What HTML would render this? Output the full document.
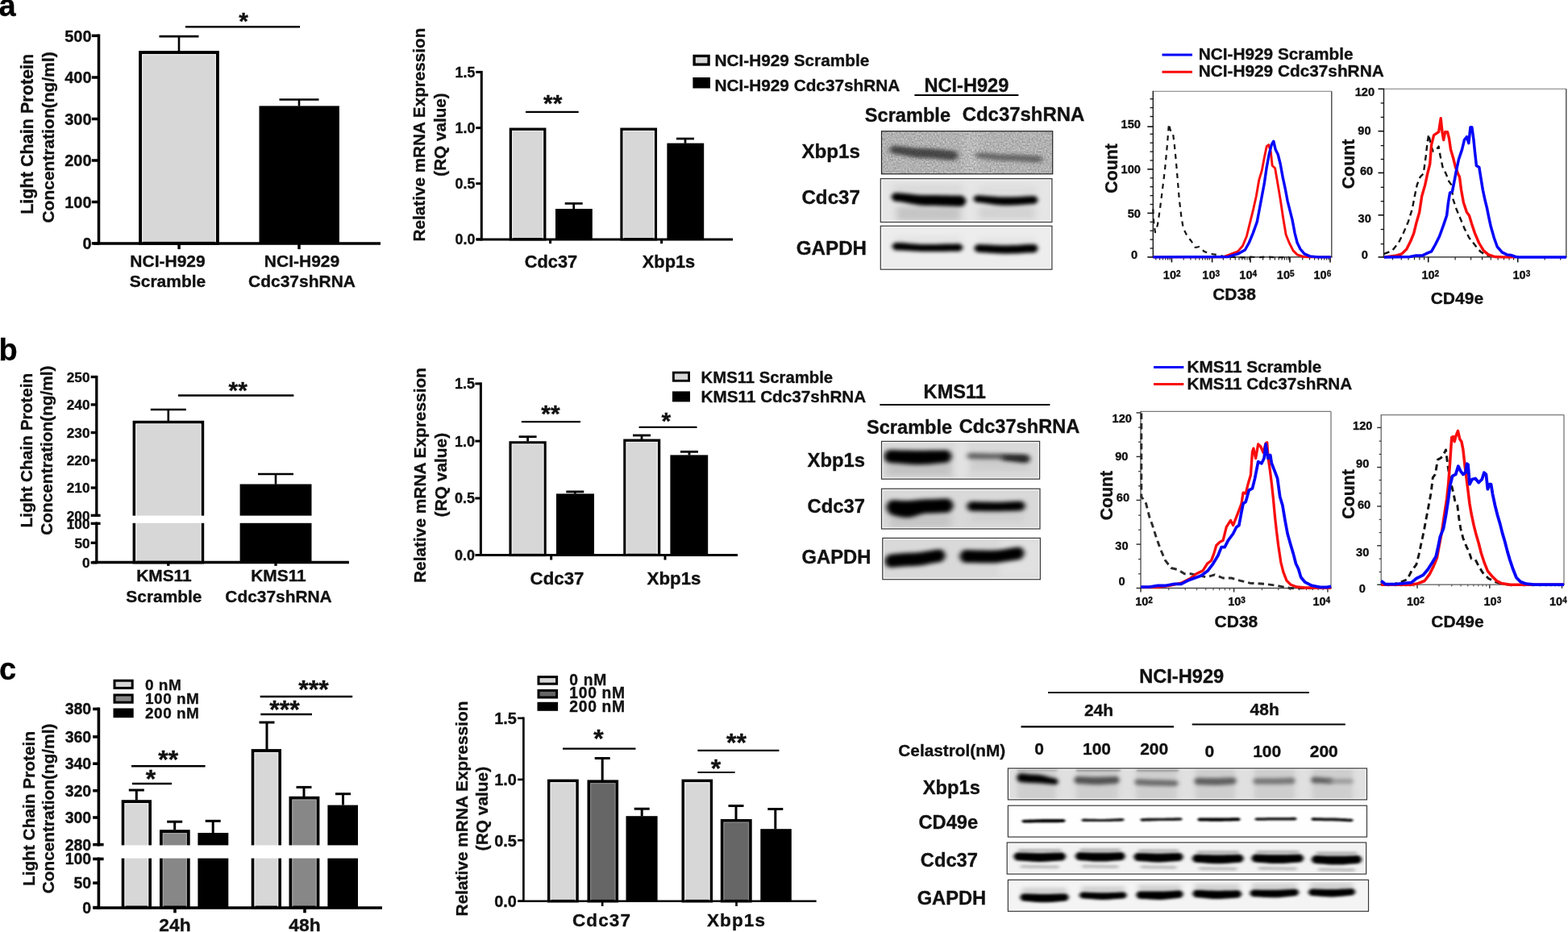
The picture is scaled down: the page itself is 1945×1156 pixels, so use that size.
<!DOCTYPE html>
<html lang="en">
<head>
<meta charset="utf-8">
<title>Figure</title>
<style>
html,body{margin:0;padding:0;background:#fff;}
body{width:1945px;height:1156px;overflow:hidden;}
svg{display:block;font-family:"Liberation Sans",Arial,Helvetica,sans-serif;}
svg text{stroke:#111;stroke-width:0.35px;stroke-linejoin:round;}
</style>
</head>
<body>
<svg width="1945" height="1156" viewBox="0 0 1945 1156" role="img" aria-label="Figure: Cdc37 knockdown and celastrol effects on light chain protein, Xbp1s, CD38 and CD49e">
<defs>
<filter id="b1" x="-20%" y="-80%" width="140%" height="260%"><feGaussianBlur stdDeviation="2.2 1.6"/></filter>
<filter id="b2" x="-20%" y="-80%" width="140%" height="260%"><feGaussianBlur stdDeviation="3 2.2"/></filter>
<filter id="b3" x="-20%" y="-80%" width="140%" height="260%"><feGaussianBlur stdDeviation="1.6 1.1"/></filter>
<filter id="b5" x="-20%" y="-80%" width="140%" height="260%"><feGaussianBlur stdDeviation="3.2 2.5"/></filter>
<filter id="b6" x="-20%" y="-80%" width="140%" height="260%"><feGaussianBlur stdDeviation="2.8 2"/></filter>
<filter id="b7" x="-20%" y="-80%" width="140%" height="260%"><feGaussianBlur stdDeviation="2.6 1.9"/></filter>
<filter id="b4" x="-30%" y="-100%" width="160%" height="300%"><feGaussianBlur stdDeviation="4 3"/></filter>
<filter id="noise" x="0" y="0" width="100%" height="100%"><feTurbulence type="fractalNoise" baseFrequency="0.5" numOctaves="2" seed="7"/><feColorMatrix type="matrix" values="0 0 0 0 0.25  0 0 0 0 0.25  0 0 0 0 0.25  3 0 0 0 -1.15"/></filter>
<filter id="noise2" x="0" y="0" width="100%" height="100%"><feTurbulence type="fractalNoise" baseFrequency="0.5" numOctaves="2" seed="23"/><feColorMatrix type="matrix" values="0 0 0 0 0.9  0 0 0 0 0.9  0 0 0 0 0.9  0 3 0 0 -1.15"/></filter>
</defs>
<rect x="0" y="0" width="1945" height="1156" fill="#fff"/>
<text x="-1.6" y="20.2" font-size="38" text-anchor="start" fill="#000" font-weight="bold">a</text>
<text x="-1.4" y="447.0" font-size="38" text-anchor="start" fill="#000" font-weight="bold">b</text>
<text x="-1.1" y="843.3" font-size="38" text-anchor="start" fill="#000" font-weight="bold">c</text>
<text x="113.6" y="51.5" font-size="20" text-anchor="end" fill="#111" font-weight="bold">500</text>
<text x="113.6" y="103.2" font-size="20" text-anchor="end" fill="#111" font-weight="bold">400</text>
<text x="113.6" y="154.7" font-size="20" text-anchor="end" fill="#111" font-weight="bold">300</text>
<text x="113.6" y="206.2" font-size="20" text-anchor="end" fill="#111" font-weight="bold">200</text>
<text x="113.6" y="257.7" font-size="20" text-anchor="end" fill="#111" font-weight="bold">100</text>
<text x="113.6" y="309.1" font-size="20" text-anchor="end" fill="#111" font-weight="bold">0</text>
<rect x="174.1" y="65.0" width="95.8" height="236.8" fill="#d7d7d7" stroke="#000" stroke-width="3.9"/>
<path d="M176.7 301.9V67.6H267.4V301.9" fill="none" stroke="#ececec" stroke-width="1.2"/>
<rect x="321.5" y="131.4" width="99.4" height="170.5" fill="#000"/>
<line x1="222.0" y1="45.1" x2="222.0" y2="63.4" stroke="#000" stroke-width="2.6"/>
<line x1="197.5" y1="45.1" x2="246.5" y2="45.1" stroke="#000" stroke-width="2.6"/>
<line x1="371.0" y1="123.5" x2="371.0" y2="131.6" stroke="#000" stroke-width="2.6"/>
<line x1="346.5" y1="123.5" x2="395.5" y2="123.5" stroke="#000" stroke-width="2.6"/>
<line x1="230.0" y1="33.2" x2="372.0" y2="33.2" stroke="#000" stroke-width="2.6"/>
<text x="302.0" y="35.5" font-size="30" text-anchor="middle" fill="#111" font-weight="bold">*</text>
<text x="41.5" y="166.3" font-size="21.6" text-anchor="middle" fill="#111" font-weight="bold" transform="rotate(-90 41.5 166.3)">Light Chain Protein</text>
<text x="67.5" y="170.4" font-size="21" text-anchor="middle" fill="#111" font-weight="bold" transform="rotate(-90 67.5 170.4)">Concentration(ng/ml)</text>
<text x="208.0" y="331.4" font-size="21" text-anchor="middle" fill="#111" font-weight="bold">NCI-H929</text>
<text x="208.0" y="356.4" font-size="21" text-anchor="middle" fill="#111" font-weight="bold">Scramble</text>
<text x="374.5" y="331.4" font-size="21" text-anchor="middle" fill="#111" font-weight="bold">NCI-H929</text>
<text x="374.5" y="356.4" font-size="21" text-anchor="middle" fill="#111" font-weight="bold">Cdc37shRNA</text>
<text x="589.3" y="95.8" font-size="17.8" text-anchor="end" fill="#111" font-weight="bold">1.5</text>
<text x="589.3" y="165.0" font-size="17.8" text-anchor="end" fill="#111" font-weight="bold">1.0</text>
<text x="589.3" y="234.1" font-size="17.8" text-anchor="end" fill="#111" font-weight="bold">0.5</text>
<text x="589.3" y="303.3" font-size="17.8" text-anchor="end" fill="#111" font-weight="bold">0.0</text>
<rect x="633.4" y="160.2" width="42.4" height="136.6" fill="#d7d7d7" stroke="#000" stroke-width="3.3"/>
<path d="M635.6 296.9V162.5H673.5V296.9" fill="none" stroke="#ececec" stroke-width="1.2"/>
<rect x="689.0" y="259.0" width="45.8" height="37.9" fill="#000"/>
<rect x="771.0" y="160.2" width="42.4" height="136.6" fill="#d7d7d7" stroke="#000" stroke-width="3.3"/>
<path d="M773.3 296.9V162.5H811.2V296.9" fill="none" stroke="#ececec" stroke-width="1.2"/>
<rect x="827.4" y="177.6" width="45.8" height="119.3" fill="#000"/>
<line x1="711.7" y1="252.4" x2="711.7" y2="259.0" stroke="#000" stroke-width="2.7"/>
<line x1="700.7" y1="252.4" x2="722.7" y2="252.4" stroke="#000" stroke-width="2.7"/>
<line x1="850.0" y1="172.0" x2="850.0" y2="177.8" stroke="#000" stroke-width="2.7"/>
<line x1="839.0" y1="172.0" x2="861.0" y2="172.0" stroke="#000" stroke-width="2.7"/>
<line x1="652.0" y1="138.9" x2="717.7" y2="138.9" stroke="#000" stroke-width="2.3"/>
<text x="685.7" y="137.5" font-size="30" text-anchor="middle" fill="#111" font-weight="bold">**</text>
<text x="526.5" y="167.0" font-size="20.7" text-anchor="middle" fill="#111" font-weight="bold" transform="rotate(-90 526.5 167.0)">Relative mRNA Expression</text>
<text x="553.2" y="167.0" font-size="20.7" text-anchor="middle" fill="#111" font-weight="bold" transform="rotate(-90 553.2 167.0)">(RQ value)</text>
<text x="683.5" y="332.3" font-size="21.8" text-anchor="middle" fill="#111" font-weight="bold">Cdc37</text>
<text x="829.5" y="332.3" font-size="21.8" text-anchor="middle" fill="#111" font-weight="bold">Xbp1s</text>
<rect x="861.1" y="69.4" width="18.0" height="10.6" fill="#d7d7d7" stroke="#000" stroke-width="3.3"/>
<rect x="859.4" y="96.0" width="21.6" height="13.5" fill="#000"/>
<text x="886.4" y="81.5" font-size="20.8" text-anchor="start" fill="#111" font-weight="bold">NCI-H929 Scramble</text>
<text x="886.4" y="112.5" font-size="20.8" text-anchor="start" fill="#111" font-weight="bold">NCI-H929 Cdc37shRNA</text>
<text x="111.5" y="473.7" font-size="17.2" text-anchor="end" fill="#111" font-weight="bold">250</text>
<text x="111.5" y="508.1" font-size="17.2" text-anchor="end" fill="#111" font-weight="bold">240</text>
<text x="111.5" y="542.8" font-size="17.2" text-anchor="end" fill="#111" font-weight="bold">230</text>
<text x="111.5" y="577.2" font-size="17.2" text-anchor="end" fill="#111" font-weight="bold">220</text>
<text x="111.5" y="611.2" font-size="17.2" text-anchor="end" fill="#111" font-weight="bold">210</text>
<text x="111.5" y="645.5" font-size="17.2" text-anchor="end" fill="#111" font-weight="bold">200</text>
<text x="111.5" y="655.5" font-size="17.2" text-anchor="end" fill="#111" font-weight="bold">100</text>
<text x="111.5" y="679.5" font-size="17.2" text-anchor="end" fill="#111" font-weight="bold">50</text>
<text x="111.5" y="704.0" font-size="17.2" text-anchor="end" fill="#111" font-weight="bold">0</text>
<rect x="166.4" y="523.6" width="85.0" height="174.0" fill="#d7d7d7" stroke="#000" stroke-width="3.6"/>
<path d="M168.8 697.6V526.0H249.0V697.6" fill="none" stroke="#ececec" stroke-width="1.2"/>
<rect x="297.6" y="600.5" width="88.9" height="97.1" fill="#000"/>
<rect x="150.0" y="639.6" width="260.0" height="9.2" fill="#fff"/>
<line x1="208.8" y1="508.0" x2="208.8" y2="522.0" stroke="#000" stroke-width="2.6"/>
<line x1="186.8" y1="508.0" x2="230.8" y2="508.0" stroke="#000" stroke-width="2.6"/>
<line x1="342.0" y1="588.0" x2="342.0" y2="600.7" stroke="#000" stroke-width="2.6"/>
<line x1="320.0" y1="588.0" x2="364.0" y2="588.0" stroke="#000" stroke-width="2.6"/>
<line x1="221.0" y1="490.6" x2="364.4" y2="490.6" stroke="#000" stroke-width="2.5"/>
<text x="295.2" y="494.0" font-size="30" text-anchor="middle" fill="#111" font-weight="bold">**</text>
<text x="39.8" y="558.6" font-size="20.8" text-anchor="middle" fill="#111" font-weight="bold" transform="rotate(-90 39.8 558.6)">Light Chain Protein</text>
<text x="64.8" y="558.6" font-size="20.8" text-anchor="middle" fill="#111" font-weight="bold" transform="rotate(-90 64.8 558.6)">Concentration(ng/ml)</text>
<text x="203.4" y="721.2" font-size="20.9" text-anchor="middle" fill="#111" font-weight="bold">KMS11</text>
<text x="203.4" y="746.7" font-size="20.9" text-anchor="middle" fill="#111" font-weight="bold">Scramble</text>
<text x="345.5" y="721.2" font-size="20.9" text-anchor="middle" fill="#111" font-weight="bold">KMS11</text>
<text x="345.5" y="746.7" font-size="20.9" text-anchor="middle" fill="#111" font-weight="bold">Cdc37shRNA</text>
<text x="589.0" y="482.3" font-size="18" text-anchor="end" fill="#111" font-weight="bold">1.5</text>
<text x="589.0" y="553.5" font-size="18" text-anchor="end" fill="#111" font-weight="bold">1.0</text>
<text x="589.0" y="624.4" font-size="18" text-anchor="end" fill="#111" font-weight="bold">0.5</text>
<text x="589.0" y="694.9" font-size="18" text-anchor="end" fill="#111" font-weight="bold">0.0</text>
<rect x="633.1" y="548.9" width="43.0" height="139.6" fill="#d7d7d7" stroke="#000" stroke-width="3.3"/>
<path d="M635.4 688.5V551.1H673.9V688.5" fill="none" stroke="#ececec" stroke-width="1.2"/>
<rect x="690.0" y="612.4" width="47.0" height="76.1" fill="#000"/>
<rect x="774.9" y="546.2" width="42.7" height="142.2" fill="#d7d7d7" stroke="#000" stroke-width="3.3"/>
<path d="M777.1 688.5V548.5H815.3V688.5" fill="none" stroke="#ececec" stroke-width="1.2"/>
<rect x="831.4" y="564.4" width="46.8" height="124.1" fill="#000"/>
<line x1="654.6" y1="541.7" x2="654.6" y2="547.4" stroke="#000" stroke-width="2.8"/>
<line x1="643.6" y1="541.7" x2="665.6" y2="541.7" stroke="#000" stroke-width="2.8"/>
<line x1="713.3" y1="609.9" x2="713.3" y2="612.6" stroke="#000" stroke-width="2.8"/>
<line x1="702.3" y1="609.9" x2="724.3" y2="609.9" stroke="#000" stroke-width="2.8"/>
<line x1="796.0" y1="540.0" x2="796.0" y2="545.0" stroke="#000" stroke-width="2.8"/>
<line x1="785.0" y1="540.0" x2="807.0" y2="540.0" stroke="#000" stroke-width="2.8"/>
<line x1="855.0" y1="560.3" x2="855.0" y2="564.6" stroke="#000" stroke-width="2.8"/>
<line x1="844.0" y1="560.3" x2="866.0" y2="560.3" stroke="#000" stroke-width="2.8"/>
<line x1="646.9" y1="523.2" x2="720.0" y2="523.2" stroke="#000" stroke-width="2.3"/>
<text x="683.0" y="523.0" font-size="30" text-anchor="middle" fill="#111" font-weight="bold">**</text>
<line x1="792.6" y1="529.8" x2="864.5" y2="529.8" stroke="#000" stroke-width="2.3"/>
<text x="826.4" y="531.5" font-size="30" text-anchor="middle" fill="#111" font-weight="bold">*</text>
<text x="527.6" y="589.5" font-size="20.85" text-anchor="middle" fill="#111" font-weight="bold" transform="rotate(-90 527.6 589.5)">Relative mRNA Expression</text>
<text x="553.6" y="589.0" font-size="20.85" text-anchor="middle" fill="#111" font-weight="bold" transform="rotate(-90 553.6 589.0)">(RQ value)</text>
<text x="691.0" y="725.0" font-size="22.3" text-anchor="middle" fill="#111" font-weight="bold">Cdc37</text>
<text x="836.0" y="725.0" font-size="22.3" text-anchor="middle" fill="#111" font-weight="bold">Xbp1s</text>
<rect x="835.4" y="462.1" width="19.2" height="10.2" fill="#d7d7d7" stroke="#000" stroke-width="2.8"/>
<rect x="834.0" y="485.4" width="22.0" height="13.0" fill="#000"/>
<text x="869.6" y="474.5" font-size="20.3" text-anchor="start" fill="#111" font-weight="bold">KMS11 Scramble</text>
<text x="869.6" y="498.8" font-size="20.7" text-anchor="start" fill="#111" font-weight="bold">KMS11 Cdc37shRNA</text>
<text x="113.2" y="886.4" font-size="19.5" text-anchor="end" fill="#111" font-weight="bold">380</text>
<text x="113.2" y="920.9" font-size="19.5" text-anchor="end" fill="#111" font-weight="bold">360</text>
<text x="113.2" y="954.2" font-size="19.5" text-anchor="end" fill="#111" font-weight="bold">340</text>
<text x="113.2" y="987.7" font-size="19.5" text-anchor="end" fill="#111" font-weight="bold">320</text>
<text x="113.2" y="1021.0" font-size="19.5" text-anchor="end" fill="#111" font-weight="bold">300</text>
<text x="113.2" y="1054.6" font-size="19.5" text-anchor="end" fill="#111" font-weight="bold">280</text>
<text x="113.2" y="1072.4" font-size="19.5" text-anchor="end" fill="#111" font-weight="bold">100</text>
<text x="113.2" y="1102.2" font-size="19.5" text-anchor="end" fill="#111" font-weight="bold">50</text>
<text x="113.2" y="1132.6" font-size="19.5" text-anchor="end" fill="#111" font-weight="bold">0</text>
<rect x="152.6" y="994.1" width="33.5" height="131.3" fill="#d7d7d7" stroke="#000" stroke-width="3.8"/>
<path d="M155.1 1125.4V996.6H183.6V1125.4" fill="none" stroke="#ececec" stroke-width="1.2"/>
<rect x="199.9" y="1031.1" width="33.9" height="94.3" fill="#878787" stroke="#000" stroke-width="3.8"/>
<path d="M202.4 1125.4V1033.6H231.3V1125.4" fill="none" stroke="#a2a2a2" stroke-width="1.2"/>
<rect x="245.4" y="1033.0" width="37.9" height="92.4" fill="#000"/>
<rect x="313.6" y="931.0" width="33.5" height="194.4" fill="#d7d7d7" stroke="#000" stroke-width="3.8"/>
<path d="M316.1 1125.4V933.5H344.6V1125.4" fill="none" stroke="#ececec" stroke-width="1.2"/>
<rect x="360.4" y="989.7" width="34.1" height="135.7" fill="#878787" stroke="#000" stroke-width="3.8"/>
<path d="M362.9 1125.4V992.2H392.0V1125.4" fill="none" stroke="#a2a2a2" stroke-width="1.2"/>
<rect x="406.4" y="998.6" width="37.6" height="126.8" fill="#000"/>
<rect x="140.0" y="1048.4" width="320.0" height="16.2" fill="#fff"/>
<line x1="169.3" y1="980.0" x2="169.3" y2="992.4" stroke="#000" stroke-width="3"/>
<line x1="159.8" y1="980.0" x2="178.8" y2="980.0" stroke="#000" stroke-width="3"/>
<line x1="216.7" y1="1019.2" x2="216.7" y2="1029.4" stroke="#000" stroke-width="3"/>
<line x1="207.2" y1="1019.2" x2="226.2" y2="1019.2" stroke="#000" stroke-width="3"/>
<line x1="264.2" y1="1018.3" x2="264.2" y2="1033.0" stroke="#000" stroke-width="3"/>
<line x1="254.7" y1="1018.3" x2="273.7" y2="1018.3" stroke="#000" stroke-width="3"/>
<line x1="331.0" y1="896.0" x2="331.0" y2="929.3" stroke="#000" stroke-width="3"/>
<line x1="321.5" y1="896.0" x2="340.5" y2="896.0" stroke="#000" stroke-width="3"/>
<line x1="377.0" y1="976.4" x2="377.0" y2="988.0" stroke="#000" stroke-width="3"/>
<line x1="367.5" y1="976.4" x2="386.5" y2="976.4" stroke="#000" stroke-width="3"/>
<line x1="425.5" y1="984.7" x2="425.5" y2="998.6" stroke="#000" stroke-width="3"/>
<line x1="416.0" y1="984.7" x2="435.0" y2="984.7" stroke="#000" stroke-width="3"/>
<line x1="164.0" y1="972.0" x2="213.0" y2="972.0" stroke="#000" stroke-width="2.4"/>
<text x="187.0" y="976.5" font-size="32" text-anchor="middle" fill="#111" font-weight="bold">*</text>
<line x1="163.0" y1="950.2" x2="254.6" y2="950.2" stroke="#000" stroke-width="2.4"/>
<text x="208.7" y="952.5" font-size="32" text-anchor="middle" fill="#111" font-weight="bold">**</text>
<line x1="323.3" y1="886.0" x2="387.0" y2="886.0" stroke="#000" stroke-width="2.4"/>
<text x="353.0" y="890.5" font-size="32" text-anchor="middle" fill="#111" font-weight="bold">***</text>
<line x1="322.7" y1="864.0" x2="437.2" y2="864.0" stroke="#000" stroke-width="2.4"/>
<text x="388.9" y="866.0" font-size="32" text-anchor="middle" fill="#111" font-weight="bold">***</text>
<text x="42.6" y="1003.0" font-size="20.85" text-anchor="middle" fill="#111" font-weight="bold" transform="rotate(-90 42.6 1003.0)">Light Chain Protein</text>
<text x="67.3" y="1003.0" font-size="20.85" text-anchor="middle" fill="#111" font-weight="bold" transform="rotate(-90 67.3 1003.0)">Concentration(ng/ml)</text>
<text x="217.0" y="1154.5" font-size="22.8" text-anchor="middle" fill="#111" font-weight="bold">24h</text>
<text x="378.0" y="1154.5" font-size="22.8" text-anchor="middle" fill="#111" font-weight="bold">48h</text>
<rect x="142.0" y="844.2" width="22.2" height="9.2" fill="#d7d7d7" stroke="#000" stroke-width="3"/>
<rect x="142.0" y="862.0" width="22.2" height="9.2" fill="#878787" stroke="#000" stroke-width="3"/>
<rect x="140.5" y="878.5" width="25.2" height="11.7" fill="#000"/>
<text x="180.0" y="855.6" font-size="19" text-anchor="start" fill="#111" font-weight="bold" letter-spacing="0.5">0 nM</text>
<text x="180.0" y="873.2" font-size="19" text-anchor="start" fill="#111" font-weight="bold" letter-spacing="0.5">100 nM</text>
<text x="180.0" y="891.0" font-size="19" text-anchor="start" fill="#111" font-weight="bold" letter-spacing="0.5">200 nM</text>
<text x="641.0" y="898.0" font-size="20" text-anchor="end" fill="#111" font-weight="bold">1.5</text>
<text x="641.0" y="974.1" font-size="20" text-anchor="end" fill="#111" font-weight="bold">1.0</text>
<text x="641.0" y="1049.5" font-size="20" text-anchor="end" fill="#111" font-weight="bold">0.5</text>
<text x="641.0" y="1124.9" font-size="20" text-anchor="end" fill="#111" font-weight="bold">0.0</text>
<rect x="680.8" y="968.4" width="35.2" height="149.3" fill="#d7d7d7" stroke="#000" stroke-width="3.6"/>
<path d="M683.2 1117.7V970.8H713.6V1117.7" fill="none" stroke="#ececec" stroke-width="1.2"/>
<rect x="730.3" y="969.2" width="35.0" height="148.5" fill="#666666" stroke="#000" stroke-width="3.6"/>
<path d="M732.7 1117.7V971.6H762.9V1117.7" fill="none" stroke="#858585" stroke-width="1.2"/>
<rect x="776.5" y="1012.2" width="39.1" height="105.5" fill="#000"/>
<rect x="847.3" y="968.4" width="35.0" height="149.3" fill="#d7d7d7" stroke="#000" stroke-width="3.6"/>
<path d="M849.7 1117.7V970.8H879.9V1117.7" fill="none" stroke="#ececec" stroke-width="1.2"/>
<rect x="895.6" y="1017.8" width="35.3" height="99.9" fill="#666666" stroke="#000" stroke-width="3.6"/>
<path d="M898.0 1117.7V1020.2H928.5V1117.7" fill="none" stroke="#858585" stroke-width="1.2"/>
<rect x="943.3" y="1028.2" width="38.5" height="89.5" fill="#000"/>
<line x1="747.2" y1="940.5" x2="747.2" y2="968.4" stroke="#000" stroke-width="3"/>
<line x1="737.7" y1="940.5" x2="756.7" y2="940.5" stroke="#000" stroke-width="3"/>
<line x1="796.2" y1="1003.2" x2="796.2" y2="1012.4" stroke="#000" stroke-width="3"/>
<line x1="786.7" y1="1003.2" x2="805.7" y2="1003.2" stroke="#000" stroke-width="3"/>
<line x1="913.0" y1="999.5" x2="913.0" y2="1016.4" stroke="#000" stroke-width="3"/>
<line x1="903.5" y1="999.5" x2="922.5" y2="999.5" stroke="#000" stroke-width="3"/>
<line x1="961.8" y1="1003.5" x2="961.8" y2="1028.4" stroke="#000" stroke-width="3"/>
<line x1="952.3" y1="1003.5" x2="971.3" y2="1003.5" stroke="#000" stroke-width="3"/>
<line x1="698.0" y1="928.7" x2="788.5" y2="928.7" stroke="#000" stroke-width="2.2"/>
<text x="742.6" y="927.0" font-size="32" text-anchor="middle" fill="#111" font-weight="bold">*</text>
<line x1="865.4" y1="930.8" x2="966.4" y2="930.8" stroke="#000" stroke-width="2.2"/>
<text x="913.5" y="932.0" font-size="32" text-anchor="middle" fill="#111" font-weight="bold">**</text>
<line x1="865.4" y1="958.0" x2="911.6" y2="958.0" stroke="#000" stroke-width="2.2"/>
<text x="888.0" y="964.0" font-size="32" text-anchor="middle" fill="#111" font-weight="bold">*</text>
<text x="579.5" y="1003.0" font-size="20.85" text-anchor="middle" fill="#111" font-weight="bold" transform="rotate(-90 579.5 1003.0)">Relative mRNA Expression</text>
<text x="605.0" y="1003.0" font-size="20.85" text-anchor="middle" fill="#111" font-weight="bold" transform="rotate(-90 605.0 1003.0)">(RQ value)</text>
<text x="746.5" y="1148.5" font-size="22.5" text-anchor="middle" fill="#111" font-weight="bold" letter-spacing="1.1">Cdc37</text>
<text x="913.5" y="1148.5" font-size="22.5" text-anchor="middle" fill="#111" font-weight="bold" letter-spacing="1.1">Xbp1s</text>
<rect x="668.0" y="839.6" width="22.6" height="8.6" fill="#d7d7d7" stroke="#000" stroke-width="3"/>
<rect x="668.0" y="856.4" width="22.6" height="8.6" fill="#666666" stroke="#000" stroke-width="3"/>
<rect x="666.5" y="870.8" width="25.6" height="11.0" fill="#000"/>
<text x="706.3" y="850.3" font-size="19.3" text-anchor="start" fill="#111" font-weight="bold" letter-spacing="0.7">0 nM</text>
<text x="706.3" y="866.3" font-size="19.3" text-anchor="start" fill="#111" font-weight="bold" letter-spacing="0.7">100 nM</text>
<text x="706.3" y="882.6" font-size="19.3" text-anchor="start" fill="#111" font-weight="bold" letter-spacing="0.7">200 nM</text>
<text x="1198.9" y="113.5" font-size="23.6" text-anchor="middle" fill="#111" font-weight="bold">NCI-H929</text>
<line x1="1134.4" y1="118.0" x2="1263.4" y2="118.0" stroke="#000" stroke-width="2.2"/>
<text x="1125.9" y="150.5" font-size="23.6" text-anchor="middle" fill="#111" font-weight="bold">Scramble</text>
<text x="1193.7" y="149.5" font-size="23.95" text-anchor="start" fill="#111" font-weight="bold">Cdc37shRNA</text>
<text x="1030.7" y="195.5" font-size="24.2" text-anchor="middle" fill="#111" font-weight="bold">Xbp1s</text>
<text x="1030.7" y="252.6" font-size="24.2" text-anchor="middle" fill="#111" font-weight="bold">Cdc37</text>
<text x="1031.4" y="316.4" font-size="24.2" text-anchor="middle" fill="#111" font-weight="bold">GAPDH</text>
<clipPath id="ca1"><rect x="1093.5" y="162.7" width="212.2" height="53.1"/></clipPath>
<rect x="1093.5" y="162.7" width="212.2" height="53.1" fill="#b2b2b2"/>
<g clip-path="url(#ca1)">
<rect x="1196.0" y="163.0" width="19.0" height="53.0" fill="#c4c4c4" opacity="0.8" filter="url(#b4)"/>
<rect x="1093" y="162" width="214" height="55" filter="url(#noise)" opacity="0.55"/><rect x="1093" y="162" width="214" height="55" filter="url(#noise2)" opacity="0.45"/>
<path d="M1103.0 185.5 L1106.6 180.8 L1110.2 180.7 L1113.8 181.0 L1117.3 181.4 L1120.9 181.8 L1124.5 182.3 L1128.1 182.8 L1131.7 183.2 L1135.2 183.6 L1138.8 183.8 L1142.4 184.0 L1146.0 184.0 L1149.6 184.1 L1153.2 184.2 L1156.8 184.5 L1160.3 184.8 L1163.9 185.2 L1167.5 185.6 L1171.1 185.9 L1174.7 186.3 L1178.2 186.6 L1181.8 186.8 L1185.4 187.5 L1189.0 193.0 L1189.0 193.0 L1185.4 198.4 L1181.8 198.8 L1178.2 198.6 L1174.7 198.3 L1171.1 197.9 L1167.5 197.6 L1163.9 197.2 L1160.3 196.8 L1156.8 196.5 L1153.2 196.2 L1149.6 196.1 L1146.0 196.0 L1142.4 195.9 L1138.8 195.7 L1135.2 195.3 L1131.7 194.7 L1128.1 194.1 L1124.5 193.4 L1120.9 192.6 L1117.3 191.9 L1113.8 191.3 L1110.2 190.9 L1106.6 190.4 L1103.0 185.5Z" fill="#333" opacity="0.88" filter="url(#b2)"/>
<path d="M1209.0 192.5 L1212.5 189.0 L1216.1 189.2 L1219.6 189.4 L1223.2 189.7 L1226.7 190.0 L1230.2 190.3 L1233.8 190.7 L1237.3 191.0 L1240.9 191.2 L1244.4 191.4 L1248.0 191.5 L1251.5 191.5 L1255.0 191.6 L1258.6 191.7 L1262.1 191.8 L1265.7 192.0 L1269.2 192.2 L1272.8 192.4 L1276.3 192.6 L1279.8 192.8 L1283.4 193.0 L1286.9 193.1 L1290.5 193.3 L1294.0 197.5 L1294.0 197.5 L1290.5 201.7 L1286.9 201.6 L1283.4 201.4 L1279.8 201.2 L1276.3 201.0 L1272.8 200.7 L1269.2 200.4 L1265.7 200.1 L1262.1 199.9 L1258.6 199.7 L1255.0 199.6 L1251.5 199.5 L1248.0 199.5 L1244.4 199.3 L1240.9 199.1 L1237.3 198.7 L1233.8 198.3 L1230.2 197.9 L1226.7 197.4 L1223.2 196.9 L1219.6 196.5 L1216.1 196.3 L1212.5 196.1 L1209.0 192.5Z" fill="#444" opacity="0.72" filter="url(#b2)"/>
<rect x="1093" y="162" width="214" height="55" filter="url(#noise)" opacity="0.22"/>
</g>
<rect x="1093.5" y="162.7" width="212.2" height="53.1" fill="none" stroke="#222" stroke-width="1.2"/>
<clipPath id="ca2"><rect x="1092.3" y="221.6" width="212.6" height="53.9"/></clipPath>
<rect x="1092.3" y="221.6" width="212.6" height="53.9" fill="#e6e6e6"/>
<g clip-path="url(#ca2)">
<rect x="1108.0" y="228.0" width="87.0" height="12.0" fill="#cfcfcf" opacity="0.5" filter="url(#b4)"/>
<rect x="1112.0" y="256.0" width="80.0" height="18.0" fill="#b4b4b4" opacity="0.65" filter="url(#b4)"/>
<rect x="1214.0" y="230.0" width="71.0" height="12.0" fill="#d4d4d4" opacity="0.5" filter="url(#b4)"/>
<rect x="1214.0" y="256.0" width="70.0" height="16.0" fill="#c2c2c2" opacity="0.55" filter="url(#b4)"/>
<path d="M1105.0 244.2 L1108.9 239.2 L1112.8 239.2 L1116.8 239.4 L1120.7 239.8 L1124.6 240.2 L1128.5 240.6 L1132.4 241.0 L1136.3 241.4 L1140.2 241.7 L1144.2 241.9 L1148.1 242.0 L1152.0 242.0 L1155.9 242.0 L1159.8 242.1 L1163.8 242.1 L1167.7 242.2 L1171.6 242.2 L1175.5 242.3 L1179.4 242.4 L1183.3 242.4 L1187.2 242.5 L1191.2 242.5 L1195.1 243.2 L1199.0 249.3 L1199.0 249.3 L1195.1 255.4 L1191.2 256.0 L1187.2 255.9 L1183.3 255.8 L1179.4 255.7 L1175.5 255.6 L1171.6 255.4 L1167.7 255.3 L1163.8 255.2 L1159.8 255.1 L1155.9 255.0 L1152.0 255.0 L1148.1 255.0 L1144.2 254.8 L1140.2 254.4 L1136.3 253.8 L1132.4 253.2 L1128.5 252.4 L1124.6 251.7 L1120.7 251.0 L1116.8 250.3 L1112.8 249.9 L1108.9 249.4 L1105.0 244.2Z" fill="#000" opacity="1" filter="url(#b7)"/>
<path d="M1207.0 246.6 L1210.4 242.3 L1213.8 242.2 L1217.1 242.4 L1220.5 242.7 L1223.9 242.9 L1227.2 243.2 L1230.6 243.5 L1234.0 243.8 L1237.4 244.0 L1240.8 244.2 L1244.1 244.3 L1247.5 244.3 L1250.9 244.3 L1254.2 244.3 L1257.6 244.2 L1261.0 244.0 L1264.4 243.9 L1267.8 243.7 L1271.1 243.5 L1274.5 243.3 L1277.9 243.2 L1281.2 243.1 L1284.6 243.3 L1288.0 248.0 L1288.0 248.0 L1284.6 252.8 L1281.2 253.1 L1277.9 253.3 L1274.5 253.5 L1271.1 253.7 L1267.8 253.9 L1264.4 254.2 L1261.0 254.4 L1257.6 254.6 L1254.2 254.7 L1250.9 254.8 L1247.5 254.8 L1244.1 254.8 L1240.8 254.6 L1237.4 254.3 L1234.0 253.9 L1230.6 253.4 L1227.2 252.9 L1223.9 252.5 L1220.5 252.0 L1217.1 251.6 L1213.8 251.3 L1210.4 251.0 L1207.0 246.6Z" fill="#000" opacity="1" filter="url(#b7)"/>
</g>
<rect x="1093.7" y="223.0" width="209.8" height="51.1" fill="none" stroke="#fff" stroke-width="1.1" opacity="0.75"/>
<rect x="1092.3" y="221.6" width="212.6" height="53.9" fill="none" stroke="#3a3a3a" stroke-width="1.2"/>
<clipPath id="ca3"><rect x="1092.3" y="280.3" width="212.6" height="53.9"/></clipPath>
<rect x="1092.3" y="280.3" width="212.6" height="53.9" fill="#ededed"/>
<g clip-path="url(#ca3)">
<rect x="1110.0" y="292.0" width="82.0" height="10.0" fill="#dcdcdc" opacity="0.5" filter="url(#b4)"/>
<rect x="1214.0" y="294.0" width="71.0" height="10.0" fill="#dcdcdc" opacity="0.5" filter="url(#b4)"/>
<path d="M1106.0 305.5 L1109.7 300.9 L1113.4 300.9 L1117.1 301.1 L1120.8 301.3 L1124.5 301.6 L1128.2 301.9 L1132.0 302.2 L1135.7 302.5 L1139.4 302.7 L1143.1 302.9 L1146.8 303.0 L1150.5 303.0 L1154.2 303.0 L1157.9 302.9 L1161.6 302.9 L1165.3 302.8 L1169.0 302.7 L1172.8 302.6 L1176.5 302.5 L1180.2 302.4 L1183.9 302.4 L1187.6 302.3 L1191.3 302.4 L1195.0 307.0 L1195.0 307.0 L1191.3 311.6 L1187.6 311.8 L1183.9 311.8 L1180.2 311.8 L1176.5 311.8 L1172.8 311.9 L1169.0 311.9 L1165.3 311.9 L1161.6 312.0 L1157.9 312.0 L1154.2 312.0 L1150.5 312.0 L1146.8 312.0 L1143.1 311.9 L1139.4 311.8 L1135.7 311.6 L1132.0 311.4 L1128.2 311.1 L1124.5 310.9 L1120.8 310.7 L1117.1 310.5 L1113.4 310.4 L1109.7 310.2 L1106.0 305.5Z" fill="#000" opacity="1" filter="url(#b7)"/>
<path d="M1208.0 308.0 L1211.3 303.3 L1214.7 303.1 L1218.0 303.2 L1221.3 303.3 L1224.7 303.5 L1228.0 303.6 L1231.3 303.8 L1234.7 303.9 L1238.0 304.1 L1241.3 304.2 L1244.7 304.2 L1248.0 304.2 L1251.3 304.2 L1254.7 304.1 L1258.0 304.0 L1261.3 303.9 L1264.7 303.7 L1268.0 303.5 L1271.3 303.3 L1274.7 303.1 L1278.0 303.0 L1281.3 302.9 L1284.7 303.1 L1288.0 308.0 L1288.0 308.0 L1284.7 312.9 L1281.3 313.4 L1278.0 313.5 L1274.7 313.6 L1271.3 313.8 L1268.0 314.0 L1264.7 314.2 L1261.3 314.4 L1258.0 314.5 L1254.7 314.6 L1251.3 314.7 L1248.0 314.8 L1244.7 314.7 L1241.3 314.6 L1238.0 314.5 L1234.7 314.3 L1231.3 314.1 L1228.0 313.9 L1224.7 313.6 L1221.3 313.4 L1218.0 313.3 L1214.7 313.1 L1211.3 312.7 L1208.0 308.0Z" fill="#000" opacity="1" filter="url(#b7)"/>
</g>
<rect x="1093.7" y="281.7" width="209.8" height="51.1" fill="none" stroke="#fff" stroke-width="1.1" opacity="0.75"/>
<rect x="1092.3" y="280.3" width="212.6" height="53.9" fill="none" stroke="#3a3a3a" stroke-width="1.2"/>
<text x="1184.3" y="494.2" font-size="23.6" text-anchor="middle" fill="#111" font-weight="bold">KMS11</text>
<line x1="1091.4" y1="502.0" x2="1302.4" y2="502.0" stroke="#000" stroke-width="2.2"/>
<text x="1128.1" y="538.0" font-size="23.6" text-anchor="middle" fill="#111" font-weight="bold">Scramble</text>
<text x="1189.8" y="536.6" font-size="23.6" text-anchor="start" fill="#111" font-weight="bold">Cdc37shRNA</text>
<text x="1037.3" y="579.0" font-size="23.8" text-anchor="middle" fill="#111" font-weight="bold">Xbp1s</text>
<text x="1037.3" y="636.0" font-size="23.8" text-anchor="middle" fill="#111" font-weight="bold">Cdc37</text>
<text x="1037.5" y="699.0" font-size="23.8" text-anchor="middle" fill="#111" font-weight="bold">GAPDH</text>
<clipPath id="cb1"><rect x="1093.5" y="547.4" width="196.1" height="46.8"/></clipPath>
<rect x="1093.5" y="547.4" width="196.1" height="46.8" fill="#d9d9d9"/>
<g clip-path="url(#cb1)">
<rect x="1100.0" y="572.0" width="80.0" height="18.0" fill="#b4b4b4" opacity="0.6" filter="url(#b4)"/>
<rect x="1205.0" y="568.0" width="72.0" height="16.0" fill="#c4c4c4" opacity="0.55" filter="url(#b4)"/>
<rect x="1185.0" y="548.0" width="15.0" height="46.0" fill="#e6e6e6" opacity="0.8" filter="url(#b4)"/>
<path d="M1096.0 566.0 L1099.5 559.4 L1103.1 558.1 L1106.6 558.1 L1110.2 558.2 L1113.7 558.3 L1117.2 558.4 L1120.8 558.4 L1124.3 558.5 L1127.9 558.6 L1131.4 558.7 L1135.0 558.7 L1138.5 558.7 L1142.0 558.7 L1145.6 558.7 L1149.1 558.7 L1152.7 558.6 L1156.2 558.6 L1159.8 558.5 L1163.3 558.4 L1166.8 558.4 L1170.4 558.3 L1173.9 558.3 L1177.5 559.5 L1181.0 566.0 L1181.0 566.0 L1177.5 572.5 L1173.9 573.9 L1170.4 574.1 L1166.8 574.4 L1163.3 574.7 L1159.8 575.1 L1156.2 575.4 L1152.7 575.7 L1149.1 576.0 L1145.6 576.1 L1142.0 576.2 L1138.5 576.2 L1135.0 576.2 L1131.4 576.0 L1127.9 575.9 L1124.3 575.6 L1120.8 575.3 L1117.2 575.1 L1113.7 574.8 L1110.2 574.5 L1106.6 574.3 L1103.1 574.1 L1099.5 572.7 L1096.0 566.0Z" fill="#000" opacity="1" filter="url(#b5)"/>
<path d="M1199.0 565.5 L1202.2 561.8 L1205.5 561.8 L1208.8 561.9 L1212.0 562.0 L1215.2 562.1 L1218.5 562.2 L1221.8 562.3 L1225.0 562.4 L1228.2 562.4 L1231.5 562.5 L1234.8 562.5 L1238.0 562.5 L1241.2 562.6 L1244.5 562.7 L1247.8 562.8 L1251.0 562.9 L1254.2 563.0 L1257.5 563.2 L1260.8 563.3 L1264.0 563.5 L1267.2 563.6 L1270.5 563.7 L1273.8 564.0 L1277.0 568.5 L1277.0 568.5 L1273.8 573.0 L1270.5 573.0 L1267.2 572.8 L1264.0 572.4 L1260.8 572.0 L1257.5 571.6 L1254.2 571.1 L1251.0 570.7 L1247.8 570.3 L1244.5 570.0 L1241.2 569.7 L1238.0 569.5 L1234.8 569.5 L1231.5 569.5 L1228.2 569.5 L1225.0 569.5 L1221.8 569.4 L1218.5 569.4 L1215.2 569.4 L1212.0 569.3 L1208.8 569.3 L1205.5 569.3 L1202.2 569.2 L1199.0 565.5Z" fill="#4a4a4a" opacity="0.85" filter="url(#b5)"/>
<path d="M1243.0 568.0 L1244.4 565.5 L1245.8 565.0 L1247.2 565.0 L1248.7 565.0 L1250.1 565.0 L1251.5 565.0 L1252.9 565.0 L1254.3 565.0 L1255.8 565.0 L1257.2 565.0 L1258.6 565.0 L1260.0 565.0 L1261.4 565.0 L1262.8 565.0 L1264.2 565.0 L1265.7 565.0 L1267.1 565.0 L1268.5 565.0 L1269.9 565.0 L1271.3 565.0 L1272.8 565.0 L1274.2 565.3 L1275.6 566.1 L1277.0 569.3 L1277.0 569.3 L1275.6 572.5 L1274.2 573.3 L1272.8 573.5 L1271.3 573.4 L1269.9 573.3 L1268.5 573.2 L1267.1 573.1 L1265.7 572.9 L1264.2 572.8 L1262.8 572.6 L1261.4 572.4 L1260.0 572.3 L1258.6 572.1 L1257.2 571.9 L1255.8 571.8 L1254.3 571.6 L1252.9 571.5 L1251.5 571.4 L1250.1 571.3 L1248.7 571.2 L1247.2 571.1 L1245.8 571.0 L1244.4 570.6 L1243.0 568.0Z" fill="#151515" opacity="0.85" filter="url(#b5)"/>
</g>
<rect x="1094.9" y="548.8" width="193.3" height="44.0" fill="none" stroke="#fff" stroke-width="1.1" opacity="0.75"/>
<rect x="1093.5" y="547.4" width="196.1" height="46.8" fill="none" stroke="#3a3a3a" stroke-width="1.2"/>
<clipPath id="cb2"><rect x="1093.5" y="606.2" width="196.5" height="49.8"/></clipPath>
<rect x="1093.5" y="606.2" width="196.5" height="49.8" fill="#d9d9d9"/>
<g clip-path="url(#cb2)">
<rect x="1104.0" y="638.0" width="76.0" height="16.0" fill="#b8b8b8" opacity="0.6" filter="url(#b4)"/>
<rect x="1205.0" y="634.0" width="65.0" height="14.0" fill="#c8c8c8" opacity="0.5" filter="url(#b4)"/>
<path d="M1099.0 629.0 L1102.5 621.8 L1106.0 620.3 L1109.5 620.2 L1113.0 620.5 L1116.5 620.7 L1120.0 620.9 L1123.5 621.0 L1127.0 621.0 L1130.5 620.8 L1134.0 620.5 L1137.5 620.1 L1141.0 619.8 L1144.5 619.5 L1148.0 619.3 L1151.5 619.2 L1155.0 619.2 L1158.5 619.1 L1162.0 619.0 L1165.5 618.8 L1169.0 618.6 L1172.5 618.5 L1176.0 618.5 L1179.5 620.0 L1183.0 627.0 L1183.0 627.0 L1179.5 634.0 L1176.0 635.7 L1172.5 636.0 L1169.0 636.1 L1165.5 636.3 L1162.0 636.5 L1158.5 636.6 L1155.0 636.7 L1151.5 636.7 L1148.0 636.8 L1144.5 637.4 L1141.0 638.3 L1137.5 639.4 L1134.0 640.5 L1130.5 641.4 L1127.0 641.9 L1123.5 642.0 L1120.0 641.7 L1116.5 641.1 L1113.0 640.4 L1109.5 639.6 L1106.0 638.6 L1102.5 636.4 L1099.0 629.0Z" fill="#000" opacity="1" filter="url(#b5)"/>
<path d="M1199.0 628.0 L1202.0 622.8 L1205.1 622.1 L1208.1 622.1 L1211.2 622.2 L1214.2 622.3 L1217.2 622.4 L1220.3 622.5 L1223.3 622.6 L1226.4 622.6 L1229.4 622.7 L1232.5 622.7 L1235.5 622.7 L1238.5 622.7 L1241.6 622.7 L1244.6 622.6 L1247.7 622.4 L1250.7 622.3 L1253.8 622.1 L1256.8 622.0 L1259.8 621.8 L1262.9 621.7 L1265.9 621.6 L1269.0 622.3 L1272.0 627.5 L1272.0 627.5 L1269.0 632.7 L1265.9 633.5 L1262.9 633.6 L1259.8 633.7 L1256.8 633.8 L1253.8 633.9 L1250.7 634.0 L1247.7 634.1 L1244.6 634.1 L1241.6 634.2 L1238.5 634.2 L1235.5 634.2 L1232.5 634.2 L1229.4 634.2 L1226.4 634.2 L1223.3 634.2 L1220.3 634.2 L1217.2 634.1 L1214.2 634.1 L1211.2 634.1 L1208.1 634.0 L1205.1 634.0 L1202.0 633.2 L1199.0 628.0Z" fill="#000" opacity="1" filter="url(#b5)"/>
</g>
<rect x="1094.9" y="607.6" width="193.7" height="47.0" fill="none" stroke="#fff" stroke-width="1.1" opacity="0.75"/>
<rect x="1093.5" y="606.2" width="196.5" height="49.8" fill="none" stroke="#3a3a3a" stroke-width="1.2"/>
<clipPath id="cb3"><rect x="1094.8" y="667.4" width="195.6" height="51.3"/></clipPath>
<rect x="1094.8" y="667.4" width="195.6" height="51.3" fill="#d9d9d9"/>
<g clip-path="url(#cb3)">
<rect x="1240.0" y="670.0" width="50.0" height="46.0" fill="#e4e4e4" opacity="0.7" filter="url(#b4)"/>
<path d="M1097.0 696.0 L1100.2 689.5 L1103.3 687.8 L1106.5 687.4 L1109.7 687.1 L1112.8 686.8 L1116.0 686.5 L1119.2 686.2 L1122.3 686.0 L1125.5 685.8 L1128.7 685.8 L1131.8 685.7 L1135.0 685.6 L1138.2 685.3 L1141.3 685.0 L1144.5 684.5 L1147.7 684.0 L1150.8 683.5 L1154.0 682.9 L1157.2 682.4 L1160.3 681.9 L1163.5 681.5 L1166.7 681.4 L1169.8 682.7 L1173.0 689.0 L1173.0 689.0 L1169.8 695.4 L1166.7 697.1 L1163.5 697.6 L1160.3 698.0 L1157.2 698.6 L1154.0 699.1 L1150.8 699.8 L1147.7 700.4 L1144.5 700.9 L1141.3 701.4 L1138.2 701.8 L1135.0 702.1 L1131.8 702.2 L1128.7 702.3 L1125.5 702.3 L1122.3 702.5 L1119.2 702.7 L1116.0 703.0 L1112.8 703.3 L1109.7 703.6 L1106.5 703.9 L1103.3 703.8 L1100.2 702.5 L1097.0 696.0Z" fill="#000" opacity="1" filter="url(#b5)"/>
<path d="M1190.0 690.0 L1193.4 683.5 L1196.8 682.1 L1200.1 682.1 L1203.5 682.2 L1206.9 682.3 L1210.2 682.4 L1213.6 682.5 L1217.0 682.6 L1220.4 682.6 L1223.8 682.7 L1227.1 682.7 L1230.5 682.7 L1233.9 682.6 L1237.2 682.4 L1240.6 682.0 L1244.0 681.5 L1247.4 680.9 L1250.8 680.3 L1254.1 679.7 L1257.5 679.2 L1260.9 678.7 L1264.2 678.4 L1267.6 679.5 L1271.0 686.0 L1271.0 686.0 L1267.6 692.6 L1264.2 694.2 L1260.9 694.6 L1257.5 695.0 L1254.1 695.5 L1250.8 696.1 L1247.4 696.6 L1244.0 697.1 L1240.6 697.6 L1237.2 697.9 L1233.9 698.2 L1230.5 698.2 L1227.1 698.2 L1223.8 698.2 L1220.4 698.2 L1217.0 698.2 L1213.6 698.2 L1210.2 698.1 L1206.9 698.1 L1203.5 698.1 L1200.1 698.0 L1196.8 697.9 L1193.4 696.5 L1190.0 690.0Z" fill="#000" opacity="1" filter="url(#b5)"/>
</g>
<rect x="1096.2" y="668.8" width="192.8" height="48.5" fill="none" stroke="#fff" stroke-width="1.1" opacity="0.75"/>
<rect x="1094.8" y="667.4" width="195.6" height="51.3" fill="none" stroke="#3a3a3a" stroke-width="1.2"/>
<text x="1465.7" y="847.0" font-size="23.6" text-anchor="middle" fill="#111" font-weight="bold">NCI-H929</text>
<line x1="1300.0" y1="859.0" x2="1623.8" y2="859.0" stroke="#000" stroke-width="2.2"/>
<text x="1363.0" y="888.0" font-size="21" text-anchor="middle" fill="#111" font-weight="bold">24h</text>
<text x="1568.7" y="886.8" font-size="21" text-anchor="middle" fill="#111" font-weight="bold">48h</text>
<line x1="1266.5" y1="901.4" x2="1456.0" y2="901.4" stroke="#000" stroke-width="2.2"/>
<line x1="1478.7" y1="898.5" x2="1668.8" y2="898.5" stroke="#000" stroke-width="2.2"/>
<text x="1114.3" y="937.7" font-size="20.8" text-anchor="start" fill="#111" font-weight="bold">Celastrol(nM)</text>
<text x="1289.2" y="936.0" font-size="21" text-anchor="middle" fill="#111" font-weight="bold">0</text>
<text x="1360.5" y="936.0" font-size="21" text-anchor="middle" fill="#111" font-weight="bold">100</text>
<text x="1431.7" y="936.0" font-size="21" text-anchor="middle" fill="#111" font-weight="bold">200</text>
<text x="1500.4" y="938.6" font-size="21" text-anchor="middle" fill="#111" font-weight="bold">0</text>
<text x="1571.7" y="938.6" font-size="21" text-anchor="middle" fill="#111" font-weight="bold">100</text>
<text x="1642.3" y="938.6" font-size="21" text-anchor="middle" fill="#111" font-weight="bold">200</text>
<text x="1180.3" y="984.6" font-size="23.7" text-anchor="middle" fill="#111" font-weight="bold">Xbp1s</text>
<text x="1176.3" y="1027.7" font-size="23.7" text-anchor="middle" fill="#111" font-weight="bold">CD49e</text>
<text x="1177.4" y="1075.3" font-size="23.7" text-anchor="middle" fill="#111" font-weight="bold">Cdc37</text>
<text x="1180.4" y="1122.2" font-size="23.7" text-anchor="middle" fill="#111" font-weight="bold">GAPDH</text>
<clipPath id="cc1"><rect x="1250.4" y="953.0" width="445.1" height="38.9"/></clipPath>
<rect x="1250.4" y="953.0" width="445.1" height="38.9" fill="#e0e0e0"/>
<g clip-path="url(#cc1)">
<rect x="1262.0" y="950.0" width="48.0" height="45.0" fill="#c2c2c2" opacity="0.6" filter="url(#b2)"/>
<rect x="1335.0" y="950.0" width="52.0" height="45.0" fill="#c2c2c2" opacity="0.6" filter="url(#b2)"/>
<rect x="1409.0" y="950.0" width="51.0" height="45.0" fill="#c2c2c2" opacity="0.6" filter="url(#b2)"/>
<rect x="1483.0" y="950.0" width="49.0" height="45.0" fill="#c2c2c2" opacity="0.6" filter="url(#b2)"/>
<rect x="1556.0" y="950.0" width="50.0" height="45.0" fill="#c2c2c2" opacity="0.6" filter="url(#b2)"/>
<rect x="1628.0" y="950.0" width="50.0" height="45.0" fill="#c2c2c2" opacity="0.6" filter="url(#b2)"/>
<rect x="1335.0" y="953.5" width="55.0" height="3.0" fill="#333" opacity="0.45" filter="url(#b3)"/>
<rect x="1410.0" y="953.5" width="52.0" height="3.0" fill="#333" opacity="0.45" filter="url(#b3)"/>
<rect x="1262.0" y="953.5" width="50.0" height="2.5" fill="#333" opacity="0.3" filter="url(#b3)"/>
<path d="M1261.0 964.5 L1263.2 960.2 L1265.3 959.3 L1267.5 959.3 L1269.7 959.5 L1271.8 959.7 L1274.0 960.0 L1276.2 960.2 L1278.3 960.4 L1280.5 960.6 L1282.7 960.7 L1284.8 960.7 L1287.0 960.8 L1289.2 961.0 L1291.3 961.4 L1293.5 961.8 L1295.7 962.3 L1297.8 962.9 L1300.0 963.5 L1302.2 964.1 L1304.3 964.7 L1306.5 965.1 L1308.7 965.5 L1310.8 966.0 L1313.0 969.5 L1313.0 969.5 L1310.8 972.9 L1308.7 973.1 L1306.5 973.0 L1304.3 972.8 L1302.2 972.6 L1300.0 972.4 L1297.8 972.1 L1295.7 971.9 L1293.5 971.7 L1291.3 971.5 L1289.2 971.4 L1287.0 971.3 L1284.8 971.2 L1282.7 971.2 L1280.5 971.1 L1278.3 971.0 L1276.2 970.9 L1274.0 970.7 L1271.8 970.5 L1269.7 970.4 L1267.5 970.2 L1265.3 970.0 L1263.2 968.9 L1261.0 964.5Z" fill="#000" opacity="1" filter="url(#b6)"/>
<path d="M1332.0 967.5 L1334.4 963.5 L1336.8 963.1 L1339.1 963.1 L1341.5 963.2 L1343.9 963.3 L1346.2 963.4 L1348.6 963.5 L1351.0 963.6 L1353.4 963.7 L1355.8 963.7 L1358.1 963.7 L1360.5 963.7 L1362.9 963.7 L1365.2 963.7 L1367.6 963.6 L1370.0 963.6 L1372.4 963.5 L1374.8 963.4 L1377.1 963.3 L1379.5 963.2 L1381.9 963.1 L1384.2 963.0 L1386.6 963.5 L1389.0 967.5 L1389.0 967.5 L1386.6 971.5 L1384.2 972.1 L1381.9 972.2 L1379.5 972.3 L1377.1 972.4 L1374.8 972.6 L1372.4 972.8 L1370.0 972.9 L1367.6 973.0 L1365.2 973.2 L1362.9 973.2 L1360.5 973.2 L1358.1 973.2 L1355.8 973.2 L1353.4 973.1 L1351.0 973.0 L1348.6 972.8 L1346.2 972.6 L1343.9 972.5 L1341.5 972.3 L1339.1 972.2 L1336.8 972.1 L1334.4 971.5 L1332.0 967.5Z" fill="#3c3c3c" opacity="0.85" filter="url(#b6)"/>
<path d="M1407.0 970.0 L1409.3 966.6 L1411.6 966.3 L1413.9 966.4 L1416.2 966.5 L1418.5 966.6 L1420.8 966.7 L1423.0 966.9 L1425.3 967.0 L1427.6 967.1 L1429.9 967.2 L1432.2 967.2 L1434.5 967.2 L1436.8 967.3 L1439.1 967.3 L1441.4 967.3 L1443.7 967.4 L1446.0 967.5 L1448.2 967.6 L1450.5 967.7 L1452.8 967.8 L1455.1 967.9 L1457.4 967.9 L1459.7 968.2 L1462.0 971.5 L1462.0 971.5 L1459.7 974.8 L1457.4 975.0 L1455.1 975.0 L1452.8 974.9 L1450.5 974.9 L1448.2 974.9 L1446.0 974.8 L1443.7 974.8 L1441.4 974.8 L1439.1 974.8 L1436.8 974.8 L1434.5 974.7 L1432.2 974.7 L1429.9 974.7 L1427.6 974.6 L1425.3 974.5 L1423.0 974.4 L1420.8 974.2 L1418.5 974.1 L1416.2 974.0 L1413.9 973.9 L1411.6 973.8 L1409.3 973.5 L1407.0 970.0Z" fill="#4c4c4c" opacity="0.75" filter="url(#b6)"/>
<path d="M1481.0 969.0 L1483.2 965.3 L1485.4 964.8 L1487.6 964.8 L1489.8 964.8 L1492.0 964.8 L1494.2 964.9 L1496.5 964.9 L1498.7 964.9 L1500.9 965.0 L1503.1 965.0 L1505.3 965.0 L1507.5 965.0 L1509.7 965.0 L1511.9 965.0 L1514.1 964.9 L1516.3 964.8 L1518.5 964.7 L1520.8 964.6 L1523.0 964.5 L1525.2 964.4 L1527.4 964.4 L1529.6 964.3 L1531.8 964.8 L1534.0 968.5 L1534.0 968.5 L1531.8 972.2 L1529.6 972.8 L1527.4 972.9 L1525.2 973.1 L1523.0 973.2 L1520.8 973.4 L1518.5 973.6 L1516.3 973.7 L1514.1 973.8 L1511.9 973.9 L1509.7 974.0 L1507.5 974.0 L1505.3 974.0 L1503.1 973.9 L1500.9 973.9 L1498.7 973.8 L1496.5 973.7 L1494.2 973.6 L1492.0 973.5 L1489.8 973.4 L1487.6 973.4 L1485.4 973.3 L1483.2 972.7 L1481.0 969.0Z" fill="#444" opacity="0.8" filter="url(#b6)"/>
<path d="M1554.0 969.0 L1556.2 965.6 L1558.4 965.2 L1560.6 965.2 L1562.8 965.2 L1565.0 965.2 L1567.2 965.2 L1569.5 965.2 L1571.7 965.2 L1573.9 965.2 L1576.1 965.2 L1578.3 965.2 L1580.5 965.2 L1582.7 965.2 L1584.9 965.2 L1587.1 965.1 L1589.3 965.0 L1591.5 965.0 L1593.8 964.9 L1596.0 964.8 L1598.2 964.7 L1600.4 964.6 L1602.6 964.5 L1604.8 964.9 L1607.0 968.5 L1607.0 968.5 L1604.8 972.1 L1602.6 972.5 L1600.4 972.5 L1598.2 972.6 L1596.0 972.6 L1593.8 972.6 L1591.5 972.7 L1589.3 972.7 L1587.1 972.7 L1584.9 972.7 L1582.7 972.7 L1580.5 972.7 L1578.3 972.8 L1576.1 972.8 L1573.9 972.8 L1571.7 972.8 L1569.5 972.8 L1567.2 972.8 L1565.0 972.8 L1562.8 972.8 L1560.6 972.7 L1558.4 972.8 L1556.2 972.4 L1554.0 969.0Z" fill="#5a5a5a" opacity="0.75" filter="url(#b6)"/>
<path d="M1626.0 967.5 L1627.1 964.7 L1628.2 963.9 L1629.4 963.6 L1630.5 963.6 L1631.6 963.7 L1632.8 963.8 L1633.9 963.8 L1635.0 963.9 L1636.1 964.0 L1637.2 964.1 L1638.4 964.3 L1639.5 964.4 L1640.6 964.5 L1641.8 964.6 L1642.9 964.7 L1644.0 964.8 L1645.1 964.9 L1646.2 965.0 L1647.4 965.1 L1648.5 965.1 L1649.6 965.2 L1650.8 965.4 L1651.9 966.0 L1653.0 968.5 L1653.0 968.5 L1651.9 971.0 L1650.8 971.6 L1649.6 971.7 L1648.5 971.7 L1647.4 971.7 L1646.2 971.7 L1645.1 971.7 L1644.0 971.7 L1642.9 971.7 L1641.8 971.7 L1640.6 971.6 L1639.5 971.6 L1638.4 971.6 L1637.2 971.6 L1636.1 971.6 L1635.0 971.6 L1633.9 971.5 L1632.8 971.5 L1631.6 971.5 L1630.5 971.5 L1629.4 971.5 L1628.2 971.1 L1627.1 970.3 L1626.0 967.5Z" fill="#444" opacity="0.8" filter="url(#b6)"/>
<path d="M1645.0 969.0 L1646.4 966.5 L1647.8 966.0 L1649.2 966.0 L1650.7 966.0 L1652.1 966.0 L1653.5 966.0 L1654.9 966.0 L1656.3 966.0 L1657.8 966.0 L1659.2 966.0 L1660.6 966.0 L1662.0 966.0 L1663.4 966.0 L1664.8 966.0 L1666.2 966.0 L1667.7 966.0 L1669.1 966.0 L1670.5 966.0 L1671.9 966.0 L1673.3 966.0 L1674.8 966.0 L1676.2 966.0 L1677.6 966.5 L1679.0 969.0 L1679.0 969.0 L1677.6 971.5 L1676.2 972.0 L1674.8 972.0 L1673.3 972.0 L1671.9 972.0 L1670.5 972.0 L1669.1 972.0 L1667.7 972.0 L1666.2 972.0 L1664.8 972.0 L1663.4 972.0 L1662.0 972.0 L1660.6 972.0 L1659.2 972.0 L1657.8 972.0 L1656.3 972.0 L1654.9 972.0 L1653.5 972.0 L1652.1 972.0 L1650.7 972.0 L1649.2 972.0 L1647.8 972.0 L1646.4 971.5 L1645.0 969.0Z" fill="#808080" opacity="0.65" filter="url(#b6)"/>
</g>
<rect x="1251.8" y="954.4" width="442.3" height="36.1" fill="none" stroke="#fff" stroke-width="1.1" opacity="0.75"/>
<rect x="1250.4" y="953.0" width="445.1" height="38.9" fill="none" stroke="#3a3a3a" stroke-width="1.2"/>
<clipPath id="cc2"><rect x="1250.4" y="999.2" width="445.1" height="38.9"/></clipPath>
<rect x="1250.4" y="999.2" width="445.1" height="38.9" fill="#fefefe"/>
<g clip-path="url(#cc2)">
<path d="M1267.0 1018.6 L1269.3 1016.8 L1271.6 1016.8 L1273.9 1016.7 L1276.2 1016.6 L1278.5 1016.5 L1280.8 1016.5 L1283.0 1016.4 L1285.3 1016.3 L1287.6 1016.2 L1289.9 1016.2 L1292.2 1016.1 L1294.5 1016.1 L1296.8 1016.1 L1299.1 1016.1 L1301.4 1016.1 L1303.7 1016.1 L1306.0 1016.0 L1308.2 1016.0 L1310.5 1016.0 L1312.8 1016.0 L1315.1 1015.9 L1317.4 1015.9 L1319.7 1015.9 L1322.0 1018.0 L1322.0 1018.0 L1319.7 1020.1 L1317.4 1020.1 L1315.1 1020.1 L1312.8 1020.2 L1310.5 1020.2 L1308.2 1020.2 L1306.0 1020.2 L1303.7 1020.3 L1301.4 1020.3 L1299.1 1020.3 L1296.8 1020.3 L1294.5 1020.3 L1292.2 1020.3 L1289.9 1020.3 L1287.6 1020.3 L1285.3 1020.3 L1283.0 1020.3 L1280.8 1020.4 L1278.5 1020.4 L1276.2 1020.4 L1273.9 1020.4 L1271.6 1020.4 L1269.3 1020.4 L1267.0 1018.6Z" fill="#000" opacity="1" filter="url(#b3)"/>
<path d="M1341.0 1017.3 L1343.2 1015.6 L1345.5 1015.6 L1347.8 1015.6 L1350.0 1015.7 L1352.2 1015.7 L1354.5 1015.7 L1356.8 1015.8 L1359.0 1015.8 L1361.2 1015.9 L1363.5 1015.9 L1365.8 1015.9 L1368.0 1015.9 L1370.2 1015.9 L1372.5 1015.8 L1374.8 1015.8 L1377.0 1015.7 L1379.2 1015.6 L1381.5 1015.4 L1383.8 1015.3 L1386.0 1015.2 L1388.2 1015.1 L1390.5 1015.1 L1392.8 1015.0 L1395.0 1016.8 L1395.0 1016.8 L1392.8 1018.6 L1390.5 1018.6 L1388.2 1018.7 L1386.0 1018.7 L1383.8 1018.8 L1381.5 1018.8 L1379.2 1018.9 L1377.0 1019.0 L1374.8 1019.0 L1372.5 1019.1 L1370.2 1019.1 L1368.0 1019.1 L1365.8 1019.1 L1363.5 1019.1 L1361.2 1019.1 L1359.0 1019.1 L1356.8 1019.1 L1354.5 1019.0 L1352.2 1019.0 L1350.0 1019.0 L1347.8 1019.0 L1345.5 1019.0 L1343.2 1019.0 L1341.0 1017.3Z" fill="#000" opacity="0.92" filter="url(#b3)"/>
<path d="M1414.0 1016.8 L1416.2 1014.9 L1418.4 1014.9 L1420.6 1014.9 L1422.8 1014.8 L1425.0 1014.8 L1427.2 1014.8 L1429.5 1014.8 L1431.7 1014.7 L1433.9 1014.7 L1436.1 1014.7 L1438.3 1014.7 L1440.5 1014.7 L1442.7 1014.7 L1444.9 1014.7 L1447.1 1014.6 L1449.3 1014.6 L1451.5 1014.5 L1453.8 1014.4 L1456.0 1014.4 L1458.2 1014.3 L1460.4 1014.3 L1462.6 1014.2 L1464.8 1014.2 L1467.0 1016.0 L1467.0 1016.0 L1464.8 1017.8 L1462.6 1017.8 L1460.4 1017.8 L1458.2 1017.9 L1456.0 1017.9 L1453.8 1017.9 L1451.5 1018.0 L1449.3 1018.0 L1447.1 1018.1 L1444.9 1018.1 L1442.7 1018.1 L1440.5 1018.1 L1438.3 1018.1 L1436.1 1018.1 L1433.9 1018.2 L1431.7 1018.2 L1429.5 1018.3 L1427.2 1018.4 L1425.0 1018.5 L1422.8 1018.5 L1420.6 1018.6 L1418.4 1018.7 L1416.2 1018.7 L1414.0 1016.8Z" fill="#000" opacity="0.92" filter="url(#b3)"/>
<path d="M1485.0 1016.6 L1487.2 1014.6 L1489.5 1014.6 L1491.8 1014.6 L1494.0 1014.6 L1496.2 1014.6 L1498.5 1014.5 L1500.8 1014.5 L1503.0 1014.5 L1505.2 1014.5 L1507.5 1014.5 L1509.8 1014.5 L1512.0 1014.5 L1514.2 1014.5 L1516.5 1014.5 L1518.8 1014.5 L1521.0 1014.4 L1523.2 1014.4 L1525.5 1014.4 L1527.8 1014.3 L1530.0 1014.3 L1532.2 1014.2 L1534.5 1014.2 L1536.8 1014.2 L1539.0 1016.2 L1539.0 1016.2 L1536.8 1018.2 L1534.5 1018.2 L1532.2 1018.3 L1530.0 1018.3 L1527.8 1018.4 L1525.5 1018.4 L1523.2 1018.5 L1521.0 1018.6 L1518.8 1018.6 L1516.5 1018.7 L1514.2 1018.7 L1512.0 1018.7 L1509.8 1018.7 L1507.5 1018.7 L1505.2 1018.7 L1503.0 1018.7 L1500.8 1018.7 L1498.5 1018.6 L1496.2 1018.6 L1494.0 1018.6 L1491.8 1018.6 L1489.5 1018.6 L1487.2 1018.6 L1485.0 1016.6Z" fill="#000" opacity="1" filter="url(#b3)"/>
<path d="M1556.0 1016.0 L1558.2 1014.2 L1560.4 1014.2 L1562.6 1014.2 L1564.8 1014.2 L1567.0 1014.2 L1569.2 1014.2 L1571.5 1014.1 L1573.7 1014.1 L1575.9 1014.1 L1578.1 1014.1 L1580.3 1014.1 L1582.5 1014.1 L1584.7 1014.1 L1586.9 1014.1 L1589.1 1014.1 L1591.3 1014.0 L1593.5 1014.0 L1595.8 1014.0 L1598.0 1013.9 L1600.2 1013.9 L1602.4 1013.8 L1604.6 1013.8 L1606.8 1013.8 L1609.0 1015.6 L1609.0 1015.6 L1606.8 1017.4 L1604.6 1017.4 L1602.4 1017.4 L1600.2 1017.4 L1598.0 1017.4 L1595.8 1017.5 L1593.5 1017.5 L1591.3 1017.5 L1589.1 1017.5 L1586.9 1017.5 L1584.7 1017.5 L1582.5 1017.5 L1580.3 1017.5 L1578.1 1017.5 L1575.9 1017.5 L1573.7 1017.6 L1571.5 1017.6 L1569.2 1017.7 L1567.0 1017.7 L1564.8 1017.7 L1562.6 1017.8 L1560.4 1017.8 L1558.2 1017.8 L1556.0 1016.0Z" fill="#000" opacity="0.92" filter="url(#b3)"/>
<path d="M1626.0 1016.0 L1628.2 1014.1 L1630.4 1014.1 L1632.6 1014.2 L1634.8 1014.2 L1637.0 1014.3 L1639.2 1014.3 L1641.5 1014.4 L1643.7 1014.4 L1645.9 1014.4 L1648.1 1014.5 L1650.3 1014.5 L1652.5 1014.5 L1654.7 1014.5 L1656.9 1014.6 L1659.1 1014.7 L1661.3 1014.8 L1663.5 1014.9 L1665.8 1015.0 L1668.0 1015.1 L1670.2 1015.3 L1672.4 1015.4 L1674.6 1015.4 L1676.8 1015.5 L1679.0 1017.4 L1679.0 1017.4 L1676.8 1019.3 L1674.6 1019.2 L1672.4 1019.2 L1670.2 1019.1 L1668.0 1018.9 L1665.8 1018.8 L1663.5 1018.7 L1661.3 1018.6 L1659.1 1018.5 L1656.9 1018.4 L1654.7 1018.3 L1652.5 1018.3 L1650.3 1018.3 L1648.1 1018.3 L1645.9 1018.2 L1643.7 1018.2 L1641.5 1018.2 L1639.2 1018.1 L1637.0 1018.1 L1634.8 1018.0 L1632.6 1018.0 L1630.4 1017.9 L1628.2 1017.9 L1626.0 1016.0Z" fill="#000" opacity="0.92" filter="url(#b3)"/>
</g>
<rect x="1250.4" y="999.2" width="445.1" height="38.9" fill="none" stroke="#3a3a3a" stroke-width="1.2"/>
<clipPath id="cc3"><rect x="1249.2" y="1045.0" width="445.4" height="39.1"/></clipPath>
<rect x="1249.2" y="1045.0" width="445.4" height="39.1" fill="#f2f2f2"/>
<g clip-path="url(#cc3)">
<path d="M1262.0 1054.5 L1264.3 1052.9 L1266.6 1052.9 L1268.9 1052.9 L1271.2 1052.9 L1273.6 1052.9 L1275.9 1052.9 L1278.2 1052.9 L1280.5 1052.9 L1282.8 1052.9 L1285.1 1052.9 L1287.4 1052.9 L1289.8 1052.9 L1292.1 1052.9 L1294.4 1052.9 L1296.7 1052.9 L1299.0 1052.9 L1301.3 1052.9 L1303.6 1052.9 L1305.9 1052.9 L1308.2 1052.9 L1310.6 1052.9 L1312.9 1052.9 L1315.2 1052.9 L1317.5 1054.5 L1317.5 1054.5 L1315.2 1056.1 L1312.9 1056.1 L1310.6 1056.1 L1308.2 1056.1 L1305.9 1056.1 L1303.6 1056.1 L1301.3 1056.1 L1299.0 1056.1 L1296.7 1056.1 L1294.4 1056.1 L1292.1 1056.1 L1289.8 1056.1 L1287.4 1056.1 L1285.1 1056.1 L1282.8 1056.1 L1280.5 1056.1 L1278.2 1056.1 L1275.9 1056.1 L1273.6 1056.1 L1271.2 1056.1 L1268.9 1056.1 L1266.6 1056.1 L1264.3 1056.1 L1262.0 1054.5Z" fill="#8c8c8c" opacity="0.7" filter="url(#b1)"/>
<path d="M1265.0 1074.8 L1267.1 1072.8 L1269.1 1072.8 L1271.2 1072.8 L1273.2 1072.8 L1275.3 1072.9 L1277.4 1072.9 L1279.4 1072.9 L1281.5 1072.9 L1283.6 1073.0 L1285.6 1073.0 L1287.7 1073.0 L1289.8 1073.0 L1291.8 1073.1 L1293.9 1073.1 L1295.9 1073.1 L1298.0 1073.2 L1300.1 1073.2 L1302.1 1073.2 L1304.2 1073.2 L1306.2 1073.3 L1308.3 1073.3 L1310.4 1073.3 L1312.4 1073.3 L1314.5 1075.3 L1314.5 1075.3 L1312.4 1077.3 L1310.4 1077.3 L1308.3 1077.3 L1306.2 1077.3 L1304.2 1077.2 L1302.1 1077.2 L1300.1 1077.2 L1298.0 1077.2 L1295.9 1077.1 L1293.9 1077.1 L1291.8 1077.1 L1289.8 1077.0 L1287.7 1077.0 L1285.6 1077.0 L1283.6 1077.0 L1281.5 1076.9 L1279.4 1076.9 L1277.4 1076.9 L1275.3 1076.9 L1273.2 1076.8 L1271.2 1076.8 L1269.1 1076.8 L1267.1 1076.8 L1265.0 1074.8Z" fill="#a0a0a0" opacity="0.65" filter="url(#b1)"/>
<path d="M1257.0 1062.3 L1259.7 1057.9 L1262.5 1057.3 L1265.2 1057.4 L1267.9 1057.4 L1270.6 1057.5 L1273.4 1057.6 L1276.1 1057.7 L1278.8 1057.7 L1281.6 1057.8 L1284.3 1057.9 L1287.0 1057.9 L1289.8 1057.9 L1292.5 1057.9 L1295.2 1057.9 L1297.9 1057.8 L1300.7 1057.7 L1303.4 1057.7 L1306.1 1057.6 L1308.9 1057.5 L1311.6 1057.4 L1314.3 1057.4 L1317.0 1057.3 L1319.8 1057.9 L1322.5 1062.3 L1322.5 1062.3 L1319.8 1066.8 L1317.0 1067.4 L1314.3 1067.5 L1311.6 1067.7 L1308.9 1067.9 L1306.1 1068.1 L1303.4 1068.3 L1300.7 1068.5 L1297.9 1068.7 L1295.2 1068.8 L1292.5 1068.9 L1289.8 1068.9 L1287.0 1068.9 L1284.3 1068.8 L1281.6 1068.7 L1278.8 1068.5 L1276.1 1068.3 L1273.4 1068.1 L1270.6 1067.9 L1267.9 1067.7 L1265.2 1067.5 L1262.5 1067.4 L1259.7 1066.8 L1257.0 1062.3Z" fill="#000" opacity="1" filter="url(#b1)"/>
<path d="M1338.5 1054.2 L1340.7 1052.6 L1342.9 1052.6 L1345.1 1052.6 L1347.2 1052.6 L1349.4 1052.6 L1351.6 1052.6 L1353.8 1052.6 L1356.0 1052.6 L1358.2 1052.6 L1360.4 1052.6 L1362.6 1052.6 L1364.8 1052.6 L1366.9 1052.6 L1369.1 1052.6 L1371.3 1052.6 L1373.5 1052.6 L1375.7 1052.6 L1377.9 1052.6 L1380.1 1052.6 L1382.2 1052.6 L1384.4 1052.6 L1386.6 1052.6 L1388.8 1052.6 L1391.0 1054.2 L1391.0 1054.2 L1388.8 1055.8 L1386.6 1055.8 L1384.4 1055.8 L1382.2 1055.8 L1380.1 1055.8 L1377.9 1055.8 L1375.7 1055.8 L1373.5 1055.8 L1371.3 1055.8 L1369.1 1055.8 L1366.9 1055.8 L1364.8 1055.8 L1362.6 1055.8 L1360.4 1055.8 L1358.2 1055.8 L1356.0 1055.8 L1353.8 1055.8 L1351.6 1055.8 L1349.4 1055.8 L1347.2 1055.8 L1345.1 1055.8 L1342.9 1055.8 L1340.7 1055.8 L1338.5 1054.2Z" fill="#8c8c8c" opacity="0.7" filter="url(#b1)"/>
<path d="M1341.5 1074.5 L1343.4 1072.5 L1345.4 1072.5 L1347.3 1072.5 L1349.2 1072.5 L1351.2 1072.6 L1353.1 1072.6 L1355.1 1072.6 L1357.0 1072.6 L1358.9 1072.7 L1360.9 1072.7 L1362.8 1072.7 L1364.8 1072.8 L1366.7 1072.8 L1368.6 1072.8 L1370.6 1072.8 L1372.5 1072.9 L1374.4 1072.9 L1376.4 1072.9 L1378.3 1072.9 L1380.2 1073.0 L1382.2 1073.0 L1384.1 1073.0 L1386.1 1073.0 L1388.0 1075.0 L1388.0 1075.0 L1386.1 1077.0 L1384.1 1077.0 L1382.2 1077.0 L1380.2 1077.0 L1378.3 1076.9 L1376.4 1076.9 L1374.4 1076.9 L1372.5 1076.9 L1370.6 1076.8 L1368.6 1076.8 L1366.7 1076.8 L1364.8 1076.8 L1362.8 1076.7 L1360.9 1076.7 L1358.9 1076.7 L1357.0 1076.6 L1355.1 1076.6 L1353.1 1076.6 L1351.2 1076.6 L1349.2 1076.5 L1347.3 1076.5 L1345.4 1076.5 L1343.4 1076.5 L1341.5 1074.5Z" fill="#a0a0a0" opacity="0.65" filter="url(#b1)"/>
<path d="M1333.5 1062.0 L1336.1 1057.6 L1338.7 1057.0 L1341.3 1057.1 L1343.9 1057.2 L1346.5 1057.2 L1349.1 1057.3 L1351.7 1057.4 L1354.3 1057.4 L1356.9 1057.5 L1359.5 1057.6 L1362.1 1057.6 L1364.8 1057.6 L1367.4 1057.6 L1370.0 1057.6 L1372.6 1057.5 L1375.2 1057.4 L1377.8 1057.4 L1380.4 1057.3 L1383.0 1057.2 L1385.6 1057.2 L1388.2 1057.1 L1390.8 1057.0 L1393.4 1057.6 L1396.0 1062.0 L1396.0 1062.0 L1393.4 1066.4 L1390.8 1067.1 L1388.2 1067.2 L1385.6 1067.4 L1383.0 1067.6 L1380.4 1067.8 L1377.8 1068.0 L1375.2 1068.2 L1372.6 1068.4 L1370.0 1068.5 L1367.4 1068.6 L1364.8 1068.6 L1362.1 1068.6 L1359.5 1068.5 L1356.9 1068.4 L1354.3 1068.2 L1351.7 1068.0 L1349.1 1067.8 L1346.5 1067.6 L1343.9 1067.4 L1341.3 1067.2 L1338.7 1067.1 L1336.1 1066.4 L1333.5 1062.0Z" fill="#000" opacity="1" filter="url(#b1)"/>
<path d="M1411.0 1055.0 L1413.2 1053.4 L1415.3 1053.4 L1417.5 1053.4 L1419.7 1053.4 L1421.8 1053.4 L1424.0 1053.4 L1426.2 1053.4 L1428.3 1053.4 L1430.5 1053.4 L1432.7 1053.4 L1434.8 1053.4 L1437.0 1053.4 L1439.2 1053.4 L1441.3 1053.4 L1443.5 1053.4 L1445.7 1053.4 L1447.8 1053.4 L1450.0 1053.4 L1452.2 1053.4 L1454.3 1053.4 L1456.5 1053.4 L1458.7 1053.4 L1460.8 1053.4 L1463.0 1055.0 L1463.0 1055.0 L1460.8 1056.6 L1458.7 1056.6 L1456.5 1056.6 L1454.3 1056.6 L1452.2 1056.6 L1450.0 1056.6 L1447.8 1056.6 L1445.7 1056.6 L1443.5 1056.6 L1441.3 1056.6 L1439.2 1056.6 L1437.0 1056.6 L1434.8 1056.6 L1432.7 1056.6 L1430.5 1056.6 L1428.3 1056.6 L1426.2 1056.6 L1424.0 1056.6 L1421.8 1056.6 L1419.7 1056.6 L1417.5 1056.6 L1415.3 1056.6 L1413.2 1056.6 L1411.0 1055.0Z" fill="#8c8c8c" opacity="0.7" filter="url(#b1)"/>
<path d="M1414.0 1075.3 L1415.9 1073.3 L1417.8 1073.3 L1419.8 1073.3 L1421.7 1073.3 L1423.6 1073.4 L1425.5 1073.4 L1427.4 1073.4 L1429.3 1073.4 L1431.2 1073.5 L1433.2 1073.5 L1435.1 1073.5 L1437.0 1073.5 L1438.9 1073.6 L1440.8 1073.6 L1442.8 1073.6 L1444.7 1073.7 L1446.6 1073.7 L1448.5 1073.7 L1450.4 1073.7 L1452.3 1073.8 L1454.2 1073.8 L1456.2 1073.8 L1458.1 1073.8 L1460.0 1075.8 L1460.0 1075.8 L1458.1 1077.8 L1456.2 1077.8 L1454.2 1077.8 L1452.3 1077.8 L1450.4 1077.7 L1448.5 1077.7 L1446.6 1077.7 L1444.7 1077.7 L1442.8 1077.6 L1440.8 1077.6 L1438.9 1077.6 L1437.0 1077.5 L1435.1 1077.5 L1433.2 1077.5 L1431.2 1077.5 L1429.3 1077.4 L1427.4 1077.4 L1425.5 1077.4 L1423.6 1077.4 L1421.7 1077.3 L1419.8 1077.3 L1417.8 1077.3 L1415.9 1077.3 L1414.0 1075.3Z" fill="#a0a0a0" opacity="0.65" filter="url(#b1)"/>
<path d="M1406.0 1062.8 L1408.6 1058.4 L1411.2 1057.8 L1413.8 1057.9 L1416.3 1058.0 L1418.9 1058.0 L1421.5 1058.1 L1424.1 1058.2 L1426.7 1058.2 L1429.2 1058.3 L1431.8 1058.4 L1434.4 1058.4 L1437.0 1058.4 L1439.6 1058.4 L1442.2 1058.4 L1444.8 1058.3 L1447.3 1058.2 L1449.9 1058.2 L1452.5 1058.1 L1455.1 1058.0 L1457.7 1058.0 L1460.2 1057.9 L1462.8 1057.8 L1465.4 1058.4 L1468.0 1062.8 L1468.0 1062.8 L1465.4 1067.2 L1462.8 1067.9 L1460.2 1068.0 L1457.7 1068.2 L1455.1 1068.4 L1452.5 1068.6 L1449.9 1068.8 L1447.3 1069.0 L1444.8 1069.2 L1442.2 1069.3 L1439.6 1069.4 L1437.0 1069.4 L1434.4 1069.4 L1431.8 1069.3 L1429.2 1069.2 L1426.7 1069.0 L1424.1 1068.8 L1421.5 1068.6 L1418.9 1068.4 L1416.3 1068.2 L1413.8 1068.0 L1411.2 1067.9 L1408.6 1067.2 L1406.0 1062.8Z" fill="#000" opacity="1" filter="url(#b1)"/>
<path d="M1483.5 1056.9 L1485.8 1055.3 L1488.0 1055.3 L1490.3 1055.3 L1492.6 1055.3 L1494.9 1055.3 L1497.1 1055.3 L1499.4 1055.3 L1501.7 1055.3 L1503.9 1055.3 L1506.2 1055.3 L1508.5 1055.3 L1510.8 1055.3 L1513.0 1055.3 L1515.3 1055.3 L1517.6 1055.3 L1519.8 1055.3 L1522.1 1055.3 L1524.4 1055.3 L1526.6 1055.3 L1528.9 1055.3 L1531.2 1055.3 L1533.5 1055.3 L1535.7 1055.3 L1538.0 1056.9 L1538.0 1056.9 L1535.7 1058.5 L1533.5 1058.5 L1531.2 1058.5 L1528.9 1058.5 L1526.6 1058.5 L1524.4 1058.5 L1522.1 1058.5 L1519.8 1058.5 L1517.6 1058.5 L1515.3 1058.5 L1513.0 1058.5 L1510.8 1058.5 L1508.5 1058.5 L1506.2 1058.5 L1503.9 1058.5 L1501.7 1058.5 L1499.4 1058.5 L1497.1 1058.5 L1494.9 1058.5 L1492.6 1058.5 L1490.3 1058.5 L1488.0 1058.5 L1485.8 1058.5 L1483.5 1056.9Z" fill="#8c8c8c" opacity="0.7" filter="url(#b1)"/>
<path d="M1486.5 1077.2 L1488.5 1075.2 L1490.5 1075.2 L1492.6 1075.2 L1494.6 1075.2 L1496.6 1075.3 L1498.6 1075.3 L1500.6 1075.3 L1502.7 1075.3 L1504.7 1075.4 L1506.7 1075.4 L1508.7 1075.4 L1510.8 1075.4 L1512.8 1075.5 L1514.8 1075.5 L1516.8 1075.5 L1518.8 1075.6 L1520.9 1075.6 L1522.9 1075.6 L1524.9 1075.6 L1526.9 1075.7 L1528.9 1075.7 L1531.0 1075.7 L1533.0 1075.7 L1535.0 1077.7 L1535.0 1077.7 L1533.0 1079.7 L1531.0 1079.7 L1528.9 1079.7 L1526.9 1079.7 L1524.9 1079.6 L1522.9 1079.6 L1520.9 1079.6 L1518.8 1079.6 L1516.8 1079.5 L1514.8 1079.5 L1512.8 1079.5 L1510.8 1079.4 L1508.7 1079.4 L1506.7 1079.4 L1504.7 1079.4 L1502.7 1079.3 L1500.6 1079.3 L1498.6 1079.3 L1496.6 1079.3 L1494.6 1079.2 L1492.6 1079.2 L1490.5 1079.2 L1488.5 1079.2 L1486.5 1077.2Z" fill="#a0a0a0" opacity="0.65" filter="url(#b1)"/>
<path d="M1478.5 1064.7 L1481.2 1060.3 L1483.9 1059.7 L1486.6 1059.8 L1489.2 1059.8 L1491.9 1059.9 L1494.6 1060.0 L1497.3 1060.1 L1500.0 1060.1 L1502.7 1060.2 L1505.4 1060.3 L1508.1 1060.3 L1510.8 1060.3 L1513.4 1060.3 L1516.1 1060.3 L1518.8 1060.2 L1521.5 1060.1 L1524.2 1060.1 L1526.9 1060.0 L1529.6 1059.9 L1532.2 1059.8 L1534.9 1059.8 L1537.6 1059.7 L1540.3 1060.3 L1543.0 1064.7 L1543.0 1064.7 L1540.3 1069.2 L1537.6 1069.8 L1534.9 1069.9 L1532.2 1070.1 L1529.6 1070.3 L1526.9 1070.5 L1524.2 1070.7 L1521.5 1070.9 L1518.8 1071.1 L1516.1 1071.2 L1513.4 1071.3 L1510.8 1071.3 L1508.1 1071.3 L1505.4 1071.2 L1502.7 1071.1 L1500.0 1070.9 L1497.3 1070.7 L1494.6 1070.5 L1491.9 1070.3 L1489.2 1070.1 L1486.6 1069.9 L1483.9 1069.8 L1481.2 1069.2 L1478.5 1064.7Z" fill="#000" opacity="1" filter="url(#b1)"/>
<path d="M1557.0 1056.7 L1559.3 1055.1 L1561.6 1055.1 L1563.9 1055.1 L1566.2 1055.1 L1568.6 1055.1 L1570.9 1055.1 L1573.2 1055.1 L1575.5 1055.1 L1577.8 1055.1 L1580.1 1055.1 L1582.4 1055.1 L1584.8 1055.1 L1587.1 1055.1 L1589.4 1055.1 L1591.7 1055.1 L1594.0 1055.1 L1596.3 1055.1 L1598.6 1055.1 L1600.9 1055.1 L1603.2 1055.1 L1605.6 1055.1 L1607.9 1055.1 L1610.2 1055.1 L1612.5 1056.7 L1612.5 1056.7 L1610.2 1058.3 L1607.9 1058.3 L1605.6 1058.3 L1603.2 1058.3 L1600.9 1058.3 L1598.6 1058.3 L1596.3 1058.3 L1594.0 1058.3 L1591.7 1058.3 L1589.4 1058.3 L1587.1 1058.3 L1584.8 1058.3 L1582.4 1058.3 L1580.1 1058.3 L1577.8 1058.3 L1575.5 1058.3 L1573.2 1058.3 L1570.9 1058.3 L1568.6 1058.3 L1566.2 1058.3 L1563.9 1058.3 L1561.6 1058.3 L1559.3 1058.3 L1557.0 1056.7Z" fill="#8c8c8c" opacity="0.7" filter="url(#b1)"/>
<path d="M1560.0 1077.0 L1562.1 1075.0 L1564.1 1075.0 L1566.2 1075.0 L1568.2 1075.0 L1570.3 1075.1 L1572.4 1075.1 L1574.4 1075.1 L1576.5 1075.1 L1578.6 1075.2 L1580.6 1075.2 L1582.7 1075.2 L1584.8 1075.2 L1586.8 1075.3 L1588.9 1075.3 L1590.9 1075.3 L1593.0 1075.4 L1595.1 1075.4 L1597.1 1075.4 L1599.2 1075.4 L1601.2 1075.5 L1603.3 1075.5 L1605.4 1075.5 L1607.4 1075.5 L1609.5 1077.5 L1609.5 1077.5 L1607.4 1079.5 L1605.4 1079.5 L1603.3 1079.5 L1601.2 1079.5 L1599.2 1079.4 L1597.1 1079.4 L1595.1 1079.4 L1593.0 1079.4 L1590.9 1079.3 L1588.9 1079.3 L1586.8 1079.3 L1584.8 1079.2 L1582.7 1079.2 L1580.6 1079.2 L1578.6 1079.2 L1576.5 1079.1 L1574.4 1079.1 L1572.4 1079.1 L1570.3 1079.1 L1568.2 1079.0 L1566.2 1079.0 L1564.1 1079.0 L1562.1 1079.0 L1560.0 1077.0Z" fill="#a0a0a0" opacity="0.65" filter="url(#b1)"/>
<path d="M1552.0 1064.5 L1554.7 1060.1 L1557.5 1059.5 L1560.2 1059.6 L1562.9 1059.7 L1565.6 1059.7 L1568.4 1059.8 L1571.1 1059.9 L1573.8 1059.9 L1576.6 1060.0 L1579.3 1060.1 L1582.0 1060.1 L1584.8 1060.1 L1587.5 1060.1 L1590.2 1060.1 L1592.9 1060.0 L1595.7 1059.9 L1598.4 1059.9 L1601.1 1059.8 L1603.9 1059.7 L1606.6 1059.7 L1609.3 1059.6 L1612.0 1059.5 L1614.8 1060.1 L1617.5 1064.5 L1617.5 1064.5 L1614.8 1069.0 L1612.0 1069.6 L1609.3 1069.7 L1606.6 1069.9 L1603.9 1070.1 L1601.1 1070.3 L1598.4 1070.5 L1595.7 1070.7 L1592.9 1070.9 L1590.2 1071.0 L1587.5 1071.1 L1584.8 1071.1 L1582.0 1071.1 L1579.3 1071.0 L1576.6 1070.9 L1573.8 1070.7 L1571.1 1070.5 L1568.4 1070.3 L1565.6 1070.1 L1562.9 1069.9 L1560.2 1069.7 L1557.5 1069.6 L1554.7 1069.0 L1552.0 1064.5Z" fill="#000" opacity="1" filter="url(#b1)"/>
<path d="M1631.5 1058.2 L1633.7 1056.6 L1635.9 1056.6 L1638.1 1056.6 L1640.3 1056.6 L1642.5 1056.6 L1644.8 1056.6 L1647.0 1056.6 L1649.2 1056.6 L1651.4 1056.6 L1653.6 1056.6 L1655.8 1056.6 L1658.0 1056.6 L1660.2 1056.6 L1662.4 1056.6 L1664.6 1056.6 L1666.8 1056.6 L1669.0 1056.6 L1671.2 1056.6 L1673.5 1056.6 L1675.7 1056.6 L1677.9 1056.6 L1680.1 1056.6 L1682.3 1056.6 L1684.5 1058.2 L1684.5 1058.2 L1682.3 1059.8 L1680.1 1059.8 L1677.9 1059.8 L1675.7 1059.8 L1673.5 1059.8 L1671.2 1059.8 L1669.0 1059.8 L1666.8 1059.8 L1664.6 1059.8 L1662.4 1059.8 L1660.2 1059.8 L1658.0 1059.8 L1655.8 1059.8 L1653.6 1059.8 L1651.4 1059.8 L1649.2 1059.8 L1647.0 1059.8 L1644.8 1059.8 L1642.5 1059.8 L1640.3 1059.8 L1638.1 1059.8 L1635.9 1059.8 L1633.7 1059.8 L1631.5 1058.2Z" fill="#8c8c8c" opacity="0.7" filter="url(#b1)"/>
<path d="M1634.5 1078.5 L1636.5 1076.5 L1638.4 1076.5 L1640.4 1076.5 L1642.3 1076.5 L1644.3 1076.6 L1646.2 1076.6 L1648.2 1076.6 L1650.2 1076.6 L1652.1 1076.7 L1654.1 1076.7 L1656.0 1076.7 L1658.0 1076.8 L1660.0 1076.8 L1661.9 1076.8 L1663.9 1076.8 L1665.8 1076.9 L1667.8 1076.9 L1669.8 1076.9 L1671.7 1076.9 L1673.7 1077.0 L1675.6 1077.0 L1677.6 1077.0 L1679.5 1077.0 L1681.5 1079.0 L1681.5 1079.0 L1679.5 1081.0 L1677.6 1081.0 L1675.6 1081.0 L1673.7 1081.0 L1671.7 1080.9 L1669.8 1080.9 L1667.8 1080.9 L1665.8 1080.9 L1663.9 1080.8 L1661.9 1080.8 L1660.0 1080.8 L1658.0 1080.8 L1656.0 1080.7 L1654.1 1080.7 L1652.1 1080.7 L1650.2 1080.6 L1648.2 1080.6 L1646.2 1080.6 L1644.3 1080.6 L1642.3 1080.5 L1640.4 1080.5 L1638.4 1080.5 L1636.5 1080.5 L1634.5 1078.5Z" fill="#a0a0a0" opacity="0.65" filter="url(#b1)"/>
<path d="M1626.5 1066.0 L1629.1 1061.6 L1631.8 1061.0 L1634.4 1061.1 L1637.0 1061.1 L1639.6 1061.2 L1642.2 1061.3 L1644.9 1061.4 L1647.5 1061.4 L1650.1 1061.5 L1652.8 1061.6 L1655.4 1061.6 L1658.0 1061.6 L1660.6 1061.6 L1663.2 1061.6 L1665.9 1061.5 L1668.5 1061.4 L1671.1 1061.4 L1673.8 1061.3 L1676.4 1061.2 L1679.0 1061.2 L1681.6 1061.1 L1684.2 1061.0 L1686.9 1061.6 L1689.5 1066.0 L1689.5 1066.0 L1686.9 1070.4 L1684.2 1071.1 L1681.6 1071.2 L1679.0 1071.4 L1676.4 1071.6 L1673.8 1071.8 L1671.1 1072.0 L1668.5 1072.2 L1665.9 1072.4 L1663.2 1072.5 L1660.6 1072.6 L1658.0 1072.6 L1655.4 1072.6 L1652.8 1072.5 L1650.1 1072.4 L1647.5 1072.2 L1644.9 1072.0 L1642.2 1071.8 L1639.6 1071.6 L1637.0 1071.4 L1634.4 1071.2 L1631.8 1071.1 L1629.1 1070.4 L1626.5 1066.0Z" fill="#000" opacity="1" filter="url(#b1)"/>
</g>
<rect x="1250.6" y="1046.4" width="442.6" height="36.3" fill="none" stroke="#fff" stroke-width="1.1" opacity="0.75"/>
<rect x="1249.2" y="1045.0" width="445.4" height="39.1" fill="none" stroke="#3a3a3a" stroke-width="1.2"/>
<clipPath id="cc4"><rect x="1250.4" y="1091.4" width="447.1" height="38.9"/></clipPath>
<rect x="1250.4" y="1091.4" width="447.1" height="38.9" fill="#f4f4f4"/>
<g clip-path="url(#cc4)">
<rect x="1268.0" y="1100.7" width="55.0" height="9.0" fill="#b0b0b0" opacity="0.5" filter="url(#b2)"/>
<path d="M1265.0 1113.0 L1267.5 1108.8 L1270.1 1108.4 L1272.6 1108.4 L1275.2 1108.5 L1277.7 1108.6 L1280.2 1108.7 L1282.8 1108.7 L1285.3 1108.8 L1287.9 1108.9 L1290.4 1109.0 L1293.0 1109.0 L1295.5 1109.0 L1298.0 1109.0 L1300.6 1109.0 L1303.1 1108.9 L1305.7 1108.8 L1308.2 1108.7 L1310.8 1108.7 L1313.3 1108.6 L1315.8 1108.5 L1318.4 1108.4 L1320.9 1108.4 L1323.5 1108.8 L1326.0 1113.0 L1326.0 1113.0 L1323.5 1117.1 L1320.9 1117.7 L1318.4 1117.8 L1315.8 1118.0 L1313.3 1118.2 L1310.8 1118.4 L1308.2 1118.7 L1305.7 1118.9 L1303.1 1119.0 L1300.6 1119.2 L1298.0 1119.3 L1295.5 1119.3 L1293.0 1119.3 L1290.4 1119.2 L1287.9 1119.0 L1285.3 1118.9 L1282.8 1118.7 L1280.2 1118.4 L1277.7 1118.2 L1275.2 1118.0 L1272.6 1117.8 L1270.1 1117.7 L1267.5 1117.1 L1265.0 1113.0Z" fill="#000" opacity="1" filter="url(#b1)"/>
<rect x="1341.5" y="1099.0" width="53.5" height="9.0" fill="#b0b0b0" opacity="0.5" filter="url(#b2)"/>
<path d="M1338.5 1110.4 L1341.0 1106.8 L1343.5 1106.6 L1345.9 1106.6 L1348.4 1106.7 L1350.9 1106.8 L1353.4 1106.9 L1355.9 1107.0 L1358.3 1107.1 L1360.8 1107.2 L1363.3 1107.2 L1365.8 1107.3 L1368.2 1107.3 L1370.7 1107.3 L1373.2 1107.2 L1375.7 1107.2 L1378.2 1107.1 L1380.6 1107.0 L1383.1 1106.9 L1385.6 1106.8 L1388.1 1106.7 L1390.6 1106.6 L1393.0 1106.6 L1395.5 1106.8 L1398.0 1110.4 L1398.0 1110.4 L1395.5 1114.0 L1393.0 1114.4 L1390.6 1114.5 L1388.1 1114.7 L1385.6 1114.9 L1383.1 1115.1 L1380.6 1115.3 L1378.2 1115.5 L1375.7 1115.7 L1373.2 1115.8 L1370.7 1115.9 L1368.2 1115.9 L1365.8 1115.9 L1363.3 1115.8 L1360.8 1115.7 L1358.3 1115.5 L1355.9 1115.3 L1353.4 1115.1 L1350.9 1114.9 L1348.4 1114.7 L1345.9 1114.5 L1343.5 1114.4 L1341.0 1114.0 L1338.5 1110.4Z" fill="#000" opacity="1" filter="url(#b1)"/>
<rect x="1412.0" y="1097.3" width="53.0" height="9.0" fill="#b0b0b0" opacity="0.5" filter="url(#b2)"/>
<path d="M1409.0 1110.0 L1411.5 1106.0 L1413.9 1105.4 L1416.4 1105.4 L1418.8 1105.5 L1421.3 1105.5 L1423.8 1105.5 L1426.2 1105.5 L1428.7 1105.6 L1431.1 1105.6 L1433.6 1105.6 L1436.0 1105.6 L1438.5 1105.6 L1441.0 1105.6 L1443.4 1105.5 L1445.9 1105.4 L1448.3 1105.3 L1450.8 1105.2 L1453.2 1105.0 L1455.7 1104.9 L1458.2 1104.7 L1460.6 1104.6 L1463.1 1104.5 L1465.5 1105.0 L1468.0 1109.0 L1468.0 1109.0 L1465.5 1113.2 L1463.1 1113.8 L1460.6 1114.0 L1458.2 1114.2 L1455.7 1114.5 L1453.2 1114.8 L1450.8 1115.1 L1448.3 1115.3 L1445.9 1115.6 L1443.4 1115.8 L1441.0 1115.9 L1438.5 1115.9 L1436.0 1115.9 L1433.6 1115.8 L1431.1 1115.7 L1428.7 1115.6 L1426.2 1115.4 L1423.8 1115.3 L1421.3 1115.1 L1418.8 1115.0 L1416.4 1114.9 L1413.9 1114.8 L1411.5 1114.2 L1409.0 1110.0Z" fill="#000" opacity="1" filter="url(#b1)"/>
<rect x="1482.0" y="1096.4" width="55.5" height="9.0" fill="#b0b0b0" opacity="0.5" filter="url(#b2)"/>
<path d="M1479.0 1108.4 L1481.6 1104.3 L1484.1 1103.8 L1486.7 1103.9 L1489.2 1104.0 L1491.8 1104.1 L1494.4 1104.2 L1496.9 1104.4 L1499.5 1104.5 L1502.1 1104.6 L1504.6 1104.6 L1507.2 1104.7 L1509.8 1104.7 L1512.3 1104.7 L1514.9 1104.7 L1517.4 1104.6 L1520.0 1104.6 L1522.6 1104.5 L1525.1 1104.5 L1527.7 1104.4 L1530.2 1104.4 L1532.8 1104.3 L1535.4 1104.3 L1537.9 1104.8 L1540.5 1108.9 L1540.5 1108.9 L1537.9 1113.1 L1535.4 1113.6 L1532.8 1113.7 L1530.2 1113.9 L1527.7 1114.1 L1525.1 1114.3 L1522.6 1114.5 L1520.0 1114.6 L1517.4 1114.8 L1514.9 1114.9 L1512.3 1115.0 L1509.8 1115.0 L1507.2 1115.0 L1504.6 1114.9 L1502.1 1114.7 L1499.5 1114.5 L1496.9 1114.3 L1494.4 1114.0 L1491.8 1113.8 L1489.2 1113.5 L1486.7 1113.3 L1484.1 1113.2 L1481.6 1112.6 L1479.0 1108.4Z" fill="#000" opacity="1" filter="url(#b1)"/>
<rect x="1553.0" y="1095.5" width="55.5" height="9.0" fill="#b0b0b0" opacity="0.5" filter="url(#b2)"/>
<path d="M1550.0 1107.8 L1552.6 1103.9 L1555.1 1103.6 L1557.7 1103.6 L1560.2 1103.6 L1562.8 1103.7 L1565.4 1103.7 L1567.9 1103.7 L1570.5 1103.7 L1573.1 1103.8 L1575.6 1103.8 L1578.2 1103.8 L1580.8 1103.8 L1583.3 1103.8 L1585.9 1103.7 L1588.4 1103.6 L1591.0 1103.5 L1593.6 1103.3 L1596.1 1103.2 L1598.7 1103.0 L1601.2 1102.9 L1603.8 1102.8 L1606.4 1102.7 L1608.9 1103.0 L1611.5 1106.8 L1611.5 1106.8 L1608.9 1110.8 L1606.4 1111.3 L1603.8 1111.4 L1601.2 1111.7 L1598.7 1111.9 L1596.1 1112.2 L1593.6 1112.5 L1591.0 1112.8 L1588.4 1113.0 L1585.9 1113.2 L1583.3 1113.3 L1580.8 1113.3 L1578.2 1113.3 L1575.6 1113.2 L1573.1 1113.1 L1570.5 1113.0 L1567.9 1112.9 L1565.4 1112.7 L1562.8 1112.6 L1560.2 1112.4 L1557.7 1112.3 L1555.1 1112.2 L1552.6 1111.8 L1550.0 1107.8Z" fill="#000" opacity="1" filter="url(#b1)"/>
<rect x="1625.5" y="1094.7" width="53.0" height="9.0" fill="#b0b0b0" opacity="0.5" filter="url(#b2)"/>
<path d="M1622.5 1106.8 L1625.0 1102.9 L1627.4 1102.6 L1629.9 1102.6 L1632.3 1102.6 L1634.8 1102.7 L1637.2 1102.8 L1639.7 1102.8 L1642.2 1102.9 L1644.6 1102.9 L1647.1 1103.0 L1649.5 1103.0 L1652.0 1103.0 L1654.5 1103.0 L1656.9 1102.9 L1659.4 1102.9 L1661.8 1102.8 L1664.3 1102.6 L1666.8 1102.5 L1669.2 1102.4 L1671.7 1102.3 L1674.1 1102.2 L1676.6 1102.1 L1679.0 1102.4 L1681.5 1106.2 L1681.5 1106.2 L1679.0 1110.1 L1676.6 1110.6 L1674.1 1110.8 L1671.7 1111.0 L1669.2 1111.2 L1666.8 1111.4 L1664.3 1111.7 L1661.8 1111.9 L1659.4 1112.1 L1656.9 1112.3 L1654.5 1112.4 L1652.0 1112.4 L1649.5 1112.4 L1647.1 1112.3 L1644.6 1112.2 L1642.2 1112.0 L1639.7 1111.9 L1637.2 1111.7 L1634.8 1111.5 L1632.3 1111.3 L1629.9 1111.2 L1627.4 1111.1 L1625.0 1110.6 L1622.5 1106.8Z" fill="#000" opacity="1" filter="url(#b1)"/>
</g>
<rect x="1251.8" y="1092.8" width="444.3" height="36.1" fill="none" stroke="#fff" stroke-width="1.1" opacity="0.75"/>
<rect x="1250.4" y="1091.4" width="447.1" height="38.9" fill="none" stroke="#3a3a3a" stroke-width="1.2"/>
<line x1="1441.5" y1="68.0" x2="1479.0" y2="68.0" stroke="#0505f8" stroke-width="3.1"/>
<line x1="1441.5" y1="89.2" x2="1479.0" y2="89.2" stroke="#f90c0c" stroke-width="3"/>
<text x="1486.7" y="73.7" font-size="20.8" text-anchor="start" fill="#111" font-weight="bold">NCI-H929 Scramble</text>
<text x="1486.7" y="95.2" font-size="20.8" text-anchor="start" fill="#111" font-weight="bold">NCI-H929 Cdc37shRNA</text>
<line x1="1430.3" y1="113.3" x2="1651.8" y2="113.3" stroke="#7a7a7a" stroke-width="1.1"/>
<line x1="1651.8" y1="113.3" x2="1651.8" y2="318.9" stroke="#3a3a3a" stroke-width="1.3"/>
<line x1="1430.3" y1="112.8" x2="1430.3" y2="319.7" stroke="#1a1a1a" stroke-width="1.4"/>
<line x1="1429.5" y1="318.9" x2="1652.6" y2="318.9" stroke="#1a1a1a" stroke-width="1.4"/>
<line x1="1423.3" y1="157.1" x2="1430.3" y2="157.1" stroke="#111" stroke-width="1.6"/>
<line x1="1423.3" y1="209.9" x2="1430.3" y2="209.9" stroke="#111" stroke-width="1.6"/>
<line x1="1423.3" y1="264.4" x2="1430.3" y2="264.4" stroke="#111" stroke-width="1.6"/>
<line x1="1423.3" y1="318.9" x2="1430.3" y2="318.9" stroke="#111" stroke-width="1.6"/>
<line x1="1426.5" y1="308.0" x2="1430.3" y2="308.0" stroke="#111" stroke-width="1.3"/>
<line x1="1426.5" y1="297.1" x2="1430.3" y2="297.1" stroke="#111" stroke-width="1.3"/>
<line x1="1426.5" y1="286.2" x2="1430.3" y2="286.2" stroke="#111" stroke-width="1.3"/>
<line x1="1426.5" y1="275.3" x2="1430.3" y2="275.3" stroke="#111" stroke-width="1.3"/>
<line x1="1426.5" y1="253.5" x2="1430.3" y2="253.5" stroke="#111" stroke-width="1.3"/>
<line x1="1426.5" y1="242.6" x2="1430.3" y2="242.6" stroke="#111" stroke-width="1.3"/>
<line x1="1426.5" y1="231.7" x2="1430.3" y2="231.7" stroke="#111" stroke-width="1.3"/>
<line x1="1426.5" y1="220.8" x2="1430.3" y2="220.8" stroke="#111" stroke-width="1.3"/>
<line x1="1426.5" y1="199.0" x2="1430.3" y2="199.0" stroke="#111" stroke-width="1.3"/>
<line x1="1426.5" y1="188.1" x2="1430.3" y2="188.1" stroke="#111" stroke-width="1.3"/>
<line x1="1426.5" y1="177.2" x2="1430.3" y2="177.2" stroke="#111" stroke-width="1.3"/>
<line x1="1426.5" y1="166.3" x2="1430.3" y2="166.3" stroke="#111" stroke-width="1.3"/>
<line x1="1426.5" y1="144.5" x2="1430.3" y2="144.5" stroke="#111" stroke-width="1.3"/>
<line x1="1426.5" y1="133.6" x2="1430.3" y2="133.6" stroke="#111" stroke-width="1.3"/>
<line x1="1426.5" y1="122.7" x2="1430.3" y2="122.7" stroke="#111" stroke-width="1.3"/>
<line x1="1453.4" y1="318.9" x2="1453.4" y2="325.4" stroke="#111" stroke-width="1.6"/>
<line x1="1503.6" y1="318.9" x2="1503.6" y2="325.4" stroke="#111" stroke-width="1.6"/>
<line x1="1551.0" y1="318.9" x2="1551.0" y2="325.4" stroke="#111" stroke-width="1.6"/>
<line x1="1600.0" y1="318.9" x2="1600.0" y2="325.4" stroke="#111" stroke-width="1.6"/>
<line x1="1650.0" y1="318.9" x2="1650.0" y2="325.4" stroke="#111" stroke-width="1.6"/>
<line x1="1433.8" y1="318.9" x2="1433.8" y2="322.4" stroke="#111" stroke-width="1.1"/>
<line x1="1438.6" y1="318.9" x2="1438.6" y2="322.4" stroke="#111" stroke-width="1.1"/>
<line x1="1442.5" y1="318.9" x2="1442.5" y2="322.4" stroke="#111" stroke-width="1.1"/>
<line x1="1445.8" y1="318.9" x2="1445.8" y2="322.4" stroke="#111" stroke-width="1.1"/>
<line x1="1448.6" y1="318.9" x2="1448.6" y2="322.4" stroke="#111" stroke-width="1.1"/>
<line x1="1451.1" y1="318.9" x2="1451.1" y2="322.4" stroke="#111" stroke-width="1.1"/>
<line x1="1468.2" y1="318.9" x2="1468.2" y2="322.4" stroke="#111" stroke-width="1.1"/>
<line x1="1476.9" y1="318.9" x2="1476.9" y2="322.4" stroke="#111" stroke-width="1.1"/>
<line x1="1483.0" y1="318.9" x2="1483.0" y2="322.4" stroke="#111" stroke-width="1.1"/>
<line x1="1487.8" y1="318.9" x2="1487.8" y2="322.4" stroke="#111" stroke-width="1.1"/>
<line x1="1491.7" y1="318.9" x2="1491.7" y2="322.4" stroke="#111" stroke-width="1.1"/>
<line x1="1495.0" y1="318.9" x2="1495.0" y2="322.4" stroke="#111" stroke-width="1.1"/>
<line x1="1497.8" y1="318.9" x2="1497.8" y2="322.4" stroke="#111" stroke-width="1.1"/>
<line x1="1500.3" y1="318.9" x2="1500.3" y2="322.4" stroke="#111" stroke-width="1.1"/>
<line x1="1517.4" y1="318.9" x2="1517.4" y2="322.4" stroke="#111" stroke-width="1.1"/>
<line x1="1526.1" y1="318.9" x2="1526.1" y2="322.4" stroke="#111" stroke-width="1.1"/>
<line x1="1532.2" y1="318.9" x2="1532.2" y2="322.4" stroke="#111" stroke-width="1.1"/>
<line x1="1537.0" y1="318.9" x2="1537.0" y2="322.4" stroke="#111" stroke-width="1.1"/>
<line x1="1540.9" y1="318.9" x2="1540.9" y2="322.4" stroke="#111" stroke-width="1.1"/>
<line x1="1544.2" y1="318.9" x2="1544.2" y2="322.4" stroke="#111" stroke-width="1.1"/>
<line x1="1547.0" y1="318.9" x2="1547.0" y2="322.4" stroke="#111" stroke-width="1.1"/>
<line x1="1549.5" y1="318.9" x2="1549.5" y2="322.4" stroke="#111" stroke-width="1.1"/>
<line x1="1566.6" y1="318.9" x2="1566.6" y2="322.4" stroke="#111" stroke-width="1.1"/>
<line x1="1575.3" y1="318.9" x2="1575.3" y2="322.4" stroke="#111" stroke-width="1.1"/>
<line x1="1581.4" y1="318.9" x2="1581.4" y2="322.4" stroke="#111" stroke-width="1.1"/>
<line x1="1586.2" y1="318.9" x2="1586.2" y2="322.4" stroke="#111" stroke-width="1.1"/>
<line x1="1590.1" y1="318.9" x2="1590.1" y2="322.4" stroke="#111" stroke-width="1.1"/>
<line x1="1593.4" y1="318.9" x2="1593.4" y2="322.4" stroke="#111" stroke-width="1.1"/>
<line x1="1596.2" y1="318.9" x2="1596.2" y2="322.4" stroke="#111" stroke-width="1.1"/>
<line x1="1598.7" y1="318.9" x2="1598.7" y2="322.4" stroke="#111" stroke-width="1.1"/>
<line x1="1615.8" y1="318.9" x2="1615.8" y2="322.4" stroke="#111" stroke-width="1.1"/>
<line x1="1624.5" y1="318.9" x2="1624.5" y2="322.4" stroke="#111" stroke-width="1.1"/>
<line x1="1630.6" y1="318.9" x2="1630.6" y2="322.4" stroke="#111" stroke-width="1.1"/>
<line x1="1635.4" y1="318.9" x2="1635.4" y2="322.4" stroke="#111" stroke-width="1.1"/>
<line x1="1639.3" y1="318.9" x2="1639.3" y2="322.4" stroke="#111" stroke-width="1.1"/>
<line x1="1642.6" y1="318.9" x2="1642.6" y2="322.4" stroke="#111" stroke-width="1.1"/>
<line x1="1645.4" y1="318.9" x2="1645.4" y2="322.4" stroke="#111" stroke-width="1.1"/>
<line x1="1647.9" y1="318.9" x2="1647.9" y2="322.4" stroke="#111" stroke-width="1.1"/>
<polyline points="1430.3,259.2 1431.1,275.1 1432.9,288.1 1435.9,279.1 1438.9,259.2 1441.9,235.3 1444.9,211.4 1447.9,179.6 1449.9,153.7 1451.8,161.7 1454.8,163.7 1456.8,179.6 1458.8,199.5 1460.8,223.4 1462.8,247.3 1465.4,269.2 1467.8,283.1 1472.7,293.0 1477.7,299.0 1482.7,307.0 1487.7,306.0 1493.6,311.9 1501.6,314.9 1509.6,315.9 1517.5,317.9 1527.5,318.9 1543.4,319.3 1551.3,318.5 1559.3,319.3 1571.2,318.5 1583.2,319.3 1599.1,318.9" fill="none" stroke="#151515" stroke-width="2.2" stroke-linejoin="round" stroke-linecap="butt" stroke-dasharray="6.2 5.8"/>
<polyline points="1430.3,318.9 1517.5,318.9 1519.5,317.9 1527.5,314.9 1535.4,311.9 1541.4,305.0 1546.4,293.0 1550.3,277.1 1554.3,261.2 1558.3,243.3 1561.7,223.4 1565.3,211.4 1568.3,195.5 1571.2,181.6 1573.6,179.6 1576.2,187.6 1578.2,205.5 1581.6,208.5 1584.2,223.4 1588.2,247.3 1591.5,269.2 1595.1,291.0 1599.1,301.0 1604.1,310.9 1609.1,315.9 1617.0,318.5 1625.0,318.9 1650.8,318.9" fill="none" stroke="#f90c0c" stroke-width="2.9" stroke-linejoin="round" stroke-linecap="butt"/>
<polyline points="1430.3,318.9 1523.5,318.5 1535.4,314.9 1544.4,310.0 1549.4,301.0 1554.3,289.1 1559.3,275.1 1562.3,259.2 1565.3,243.3 1568.3,227.4 1571.2,207.5 1574.2,191.5 1577.2,179.6 1579.8,175.2 1582.2,185.6 1585.2,191.5 1588.2,203.5 1591.1,219.4 1594.1,233.3 1597.1,249.3 1600.1,261.2 1603.1,273.1 1606.1,289.1 1609.1,301.0 1613.0,309.0 1618.0,314.9 1625.0,317.9 1634.9,318.9 1650.8,318.9" fill="none" stroke="#0505f8" stroke-width="3.4" stroke-linejoin="round" stroke-linecap="butt"/>
<text x="1414.9" y="159.3" font-size="14.6" text-anchor="end" fill="#111" font-weight="bold">150</text>
<text x="1414.9" y="215.2" font-size="14.6" text-anchor="end" fill="#111" font-weight="bold">100</text>
<text x="1414.9" y="270.0" font-size="14.6" text-anchor="end" fill="#111" font-weight="bold">50</text>
<text x="1411.0" y="320.7" font-size="14.6" text-anchor="end" fill="#111" font-weight="bold">0</text>
<text x="1385.5" y="209.0" font-size="21.3" text-anchor="middle" fill="#111" font-weight="bold" transform="rotate(-90 1385.5 209.0)">Count</text>
<text x="1453.7" y="346.4" font-size="14.5" text-anchor="middle" fill="#111" font-weight="bold">10<tspan dy="-3.6" font-size="10">2</tspan></text>
<text x="1502.2" y="346.4" font-size="14.5" text-anchor="middle" fill="#111" font-weight="bold">10<tspan dy="-3.6" font-size="10">3</tspan></text>
<text x="1548.2" y="346.4" font-size="14.5" text-anchor="middle" fill="#111" font-weight="bold">10<tspan dy="-3.6" font-size="10">4</tspan></text>
<text x="1594.7" y="346.4" font-size="14.5" text-anchor="middle" fill="#111" font-weight="bold">10<tspan dy="-3.6" font-size="10">5</tspan></text>
<text x="1640.4" y="346.4" font-size="14.5" text-anchor="middle" fill="#111" font-weight="bold">10<tspan dy="-3.6" font-size="10">6</tspan></text>
<text x="1531.0" y="371.8" font-size="21" text-anchor="middle" fill="#111" font-weight="bold">CD38</text>
<line x1="1716.5" y1="110.3" x2="1942.8" y2="110.3" stroke="#7a7a7a" stroke-width="1.1"/>
<line x1="1942.8" y1="110.3" x2="1942.8" y2="318.9" stroke="#3a3a3a" stroke-width="1.3"/>
<line x1="1716.5" y1="109.8" x2="1716.5" y2="319.7" stroke="#1a1a1a" stroke-width="1.4"/>
<line x1="1715.7" y1="318.9" x2="1943.6" y2="318.9" stroke="#1a1a1a" stroke-width="1.4"/>
<line x1="1709.5" y1="110.3" x2="1716.5" y2="110.3" stroke="#111" stroke-width="1.6"/>
<line x1="1709.5" y1="162.7" x2="1716.5" y2="162.7" stroke="#111" stroke-width="1.6"/>
<line x1="1709.5" y1="214.4" x2="1716.5" y2="214.4" stroke="#111" stroke-width="1.6"/>
<line x1="1709.5" y1="266.8" x2="1716.5" y2="266.8" stroke="#111" stroke-width="1.6"/>
<line x1="1709.5" y1="318.9" x2="1716.5" y2="318.9" stroke="#111" stroke-width="1.6"/>
<line x1="1712.7" y1="127.9" x2="1716.5" y2="127.9" stroke="#111" stroke-width="1.3"/>
<line x1="1712.7" y1="145.4" x2="1716.5" y2="145.4" stroke="#111" stroke-width="1.3"/>
<line x1="1712.7" y1="180.6" x2="1716.5" y2="180.6" stroke="#111" stroke-width="1.3"/>
<line x1="1712.7" y1="197.5" x2="1716.5" y2="197.5" stroke="#111" stroke-width="1.3"/>
<line x1="1712.7" y1="232.3" x2="1716.5" y2="232.3" stroke="#111" stroke-width="1.3"/>
<line x1="1712.7" y1="249.7" x2="1716.5" y2="249.7" stroke="#111" stroke-width="1.3"/>
<line x1="1712.7" y1="284.5" x2="1716.5" y2="284.5" stroke="#111" stroke-width="1.3"/>
<line x1="1712.7" y1="302.6" x2="1716.5" y2="302.6" stroke="#111" stroke-width="1.3"/>
<line x1="1771.7" y1="318.9" x2="1771.7" y2="325.4" stroke="#111" stroke-width="1.6"/>
<line x1="1882.7" y1="318.9" x2="1882.7" y2="325.4" stroke="#111" stroke-width="1.6"/>
<line x1="1727.5" y1="318.9" x2="1727.5" y2="322.4" stroke="#111" stroke-width="1.1"/>
<line x1="1738.2" y1="318.9" x2="1738.2" y2="322.4" stroke="#111" stroke-width="1.1"/>
<line x1="1747.0" y1="318.9" x2="1747.0" y2="322.4" stroke="#111" stroke-width="1.1"/>
<line x1="1754.5" y1="318.9" x2="1754.5" y2="322.4" stroke="#111" stroke-width="1.1"/>
<line x1="1760.9" y1="318.9" x2="1760.9" y2="322.4" stroke="#111" stroke-width="1.1"/>
<line x1="1766.6" y1="318.9" x2="1766.6" y2="322.4" stroke="#111" stroke-width="1.1"/>
<line x1="1805.1" y1="318.9" x2="1805.1" y2="322.4" stroke="#111" stroke-width="1.1"/>
<line x1="1824.6" y1="318.9" x2="1824.6" y2="322.4" stroke="#111" stroke-width="1.1"/>
<line x1="1838.5" y1="318.9" x2="1838.5" y2="322.4" stroke="#111" stroke-width="1.1"/>
<line x1="1849.3" y1="318.9" x2="1849.3" y2="322.4" stroke="#111" stroke-width="1.1"/>
<line x1="1858.1" y1="318.9" x2="1858.1" y2="322.4" stroke="#111" stroke-width="1.1"/>
<line x1="1865.5" y1="318.9" x2="1865.5" y2="322.4" stroke="#111" stroke-width="1.1"/>
<line x1="1872.0" y1="318.9" x2="1872.0" y2="322.4" stroke="#111" stroke-width="1.1"/>
<line x1="1877.6" y1="318.9" x2="1877.6" y2="322.4" stroke="#111" stroke-width="1.1"/>
<line x1="1916.1" y1="318.9" x2="1916.1" y2="322.4" stroke="#111" stroke-width="1.1"/>
<line x1="1935.7" y1="318.9" x2="1935.7" y2="322.4" stroke="#111" stroke-width="1.1"/>
<polyline points="1716.9,314.9 1726.9,310.9 1734.9,301.0 1740.8,289.1 1746.8,275.1 1751.8,259.2 1754.8,243.3 1757.7,229.4 1761.7,219.4 1765.7,215.4 1768.7,193.5 1770.7,175.6 1772.3,166.7 1774.7,179.6 1777.6,187.6 1781.6,185.6 1784.6,181.6 1786.6,193.5 1789.6,207.5 1793.6,215.4 1797.5,225.4 1800.5,229.4 1802.5,247.3 1806.5,259.2 1811.5,271.1 1816.4,283.1 1822.4,295.0 1830.4,305.0 1836.3,311.9 1842.3,315.9 1848.3,317.9" fill="none" stroke="#151515" stroke-width="2.4" stroke-linejoin="round" stroke-linecap="butt" stroke-dasharray="7 5"/>
<polyline points="1716.9,318.9 1730.9,317.3 1738.8,314.9 1744.8,309.0 1749.8,299.0 1753.8,289.1 1756.7,277.1 1760.7,263.2 1763.7,243.3 1767.7,229.4 1770.7,215.4 1773.7,203.5 1775.6,179.6 1778.6,167.7 1781.6,165.7 1784.6,163.7 1787.2,146.8 1789.0,163.7 1790.6,173.6 1792.6,163.7 1795.5,163.7 1797.5,171.6 1799.5,185.6 1802.5,195.5 1805.5,207.5 1808.5,215.4 1810.5,219.4 1812.5,235.3 1815.4,251.2 1819.4,263.2 1822.4,267.2 1825.4,277.1 1829.4,289.1 1834.4,301.0 1840.3,310.9 1846.3,315.9 1854.3,318.5 1864.2,318.9 1880.1,318.9" fill="none" stroke="#f90c0c" stroke-width="3.4" stroke-linejoin="round" stroke-linecap="butt"/>
<polyline points="1716.9,318.9 1748.8,318.5 1756.7,316.9 1764.7,316.9 1770.7,313.9 1775.6,311.9 1780.6,303.0 1785.6,293.0 1790.6,279.1 1794.6,267.2 1796.5,251.2 1798.5,239.3 1801.5,237.3 1803.5,227.4 1806.5,211.4 1809.5,197.5 1813.5,185.6 1816.4,173.6 1819.4,169.7 1821.8,177.6 1824.0,157.7 1825.8,157.7 1828.0,173.6 1829.4,187.6 1831.4,205.5 1834.8,207.5 1836.7,219.4 1839.3,235.3 1842.3,249.3 1844.3,257.2 1846.7,269.2 1849.3,281.1 1853.3,295.0 1857.2,306.0 1863.2,312.9 1869.2,315.9 1874.2,316.5 1880.1,318.5 1884.1,318.9 1942.8,318.9" fill="none" stroke="#0505f8" stroke-width="3.5" stroke-linejoin="round" stroke-linecap="butt"/>
<text x="1692.9" y="119.1" font-size="14.6" text-anchor="middle" fill="#111" font-weight="bold">120</text>
<text x="1692.4" y="167.3" font-size="14.6" text-anchor="middle" fill="#111" font-weight="bold">90</text>
<text x="1695.0" y="217.0" font-size="14.6" text-anchor="middle" fill="#111" font-weight="bold">60</text>
<text x="1692.7" y="276.3" font-size="14.6" text-anchor="middle" fill="#111" font-weight="bold">30</text>
<text x="1692.8" y="321.1" font-size="14.6" text-anchor="middle" fill="#111" font-weight="bold">0</text>
<text x="1679.9" y="203.5" font-size="21.3" text-anchor="middle" fill="#111" font-weight="bold" transform="rotate(-90 1679.9 203.5)">Count</text>
<text x="1774.3" y="346.4" font-size="14.5" text-anchor="middle" fill="#111" font-weight="bold">10<tspan dy="-3.6" font-size="10">2</tspan></text>
<text x="1887.4" y="346.4" font-size="14.5" text-anchor="middle" fill="#111" font-weight="bold">10<tspan dy="-3.6" font-size="10">3</tspan></text>
<text x="1807.4" y="377.3" font-size="21" text-anchor="middle" fill="#111" font-weight="bold">CD49e</text>
<line x1="1431.0" y1="455.5" x2="1468.3" y2="455.5" stroke="#0505f8" stroke-width="3.1"/>
<line x1="1431.0" y1="476.5" x2="1468.3" y2="476.5" stroke="#f90c0c" stroke-width="2.8"/>
<text x="1472.6" y="461.5" font-size="20.7" text-anchor="start" fill="#111" font-weight="bold">KMS11 Scramble</text>
<text x="1472.6" y="483.0" font-size="20.7" text-anchor="start" fill="#111" font-weight="bold">KMS11 Cdc37shRNA</text>
<line x1="1415.0" y1="510.4" x2="1651.0" y2="510.4" stroke="#7a7a7a" stroke-width="1.1"/>
<line x1="1651.0" y1="510.4" x2="1651.0" y2="729.5" stroke="#777" stroke-width="1.3"/>
<line x1="1415.0" y1="509.9" x2="1415.0" y2="730.3" stroke="#4a4a4a" stroke-width="1.3"/>
<line x1="1414.2" y1="729.5" x2="1651.8" y2="729.5" stroke="#4a4a4a" stroke-width="1.3"/>
<line x1="1409.5" y1="512.0" x2="1415.0" y2="512.0" stroke="#2a2a2a" stroke-width="1.4"/>
<line x1="1409.5" y1="566.4" x2="1415.0" y2="566.4" stroke="#2a2a2a" stroke-width="1.4"/>
<line x1="1409.5" y1="620.4" x2="1415.0" y2="620.4" stroke="#2a2a2a" stroke-width="1.4"/>
<line x1="1409.5" y1="675.1" x2="1415.0" y2="675.1" stroke="#2a2a2a" stroke-width="1.4"/>
<line x1="1409.5" y1="729.5" x2="1415.0" y2="729.5" stroke="#2a2a2a" stroke-width="1.4"/>
<line x1="1412.0" y1="530.1" x2="1415.0" y2="530.1" stroke="#2a2a2a" stroke-width="1.0999999999999999"/>
<line x1="1412.0" y1="548.2" x2="1415.0" y2="548.2" stroke="#2a2a2a" stroke-width="1.0999999999999999"/>
<line x1="1412.0" y1="584.7" x2="1415.0" y2="584.7" stroke="#2a2a2a" stroke-width="1.0999999999999999"/>
<line x1="1412.0" y1="602.8" x2="1415.0" y2="602.8" stroke="#2a2a2a" stroke-width="1.0999999999999999"/>
<line x1="1412.0" y1="639.1" x2="1415.0" y2="639.1" stroke="#2a2a2a" stroke-width="1.0999999999999999"/>
<line x1="1412.0" y1="657.2" x2="1415.0" y2="657.2" stroke="#2a2a2a" stroke-width="1.0999999999999999"/>
<line x1="1412.0" y1="693.5" x2="1415.0" y2="693.5" stroke="#2a2a2a" stroke-width="1.0999999999999999"/>
<line x1="1412.0" y1="711.8" x2="1415.0" y2="711.8" stroke="#2a2a2a" stroke-width="1.0999999999999999"/>
<line x1="1415.0" y1="729.5" x2="1415.0" y2="734.5" stroke="#2a2a2a" stroke-width="1.4"/>
<line x1="1530.6" y1="729.5" x2="1530.6" y2="734.5" stroke="#2a2a2a" stroke-width="1.4"/>
<line x1="1646.9" y1="729.5" x2="1646.9" y2="734.5" stroke="#2a2a2a" stroke-width="1.4"/>
<line x1="1449.8" y1="729.5" x2="1449.8" y2="732.2" stroke="#2a2a2a" stroke-width="0.8999999999999999"/>
<line x1="1470.2" y1="729.5" x2="1470.2" y2="732.2" stroke="#2a2a2a" stroke-width="0.8999999999999999"/>
<line x1="1484.6" y1="729.5" x2="1484.6" y2="732.2" stroke="#2a2a2a" stroke-width="0.8999999999999999"/>
<line x1="1495.8" y1="729.5" x2="1495.8" y2="732.2" stroke="#2a2a2a" stroke-width="0.8999999999999999"/>
<line x1="1505.0" y1="729.5" x2="1505.0" y2="732.2" stroke="#2a2a2a" stroke-width="0.8999999999999999"/>
<line x1="1512.7" y1="729.5" x2="1512.7" y2="732.2" stroke="#2a2a2a" stroke-width="0.8999999999999999"/>
<line x1="1519.4" y1="729.5" x2="1519.4" y2="732.2" stroke="#2a2a2a" stroke-width="0.8999999999999999"/>
<line x1="1525.3" y1="729.5" x2="1525.3" y2="732.2" stroke="#2a2a2a" stroke-width="0.8999999999999999"/>
<line x1="1565.4" y1="729.5" x2="1565.4" y2="732.2" stroke="#2a2a2a" stroke-width="0.8999999999999999"/>
<line x1="1585.8" y1="729.5" x2="1585.8" y2="732.2" stroke="#2a2a2a" stroke-width="0.8999999999999999"/>
<line x1="1600.3" y1="729.5" x2="1600.3" y2="732.2" stroke="#2a2a2a" stroke-width="0.8999999999999999"/>
<line x1="1611.5" y1="729.5" x2="1611.5" y2="732.2" stroke="#2a2a2a" stroke-width="0.8999999999999999"/>
<line x1="1620.6" y1="729.5" x2="1620.6" y2="732.2" stroke="#2a2a2a" stroke-width="0.8999999999999999"/>
<line x1="1628.4" y1="729.5" x2="1628.4" y2="732.2" stroke="#2a2a2a" stroke-width="0.8999999999999999"/>
<line x1="1635.1" y1="729.5" x2="1635.1" y2="732.2" stroke="#2a2a2a" stroke-width="0.8999999999999999"/>
<line x1="1641.0" y1="729.5" x2="1641.0" y2="732.2" stroke="#2a2a2a" stroke-width="0.8999999999999999"/>
<polyline points="1415.8,512.5 1415.8,616.3 1417.5,618.4 1421.6,624.6 1425.8,641.2 1429.9,652.6 1434.1,666.1 1439.3,680.7 1445.5,695.2 1452.8,704.5 1461.1,706.6 1469.4,711.8 1477.7,711.8 1488.1,713.9 1496.4,716.0 1506.8,712.8 1517.1,717.0 1527.5,717.0 1537.9,720.1 1550.4,723.2 1569.0,724.3 1583.6,726.3 1600.2,729.5 1633.4,729.5" fill="none" stroke="#2c2c2c" stroke-width="2.9" stroke-linejoin="round" stroke-linecap="butt" stroke-dasharray="7.5 5"/>
<polyline points="1415.0,728.4 1436.1,728.4 1450.7,726.3 1465.2,723.2 1475.6,718.0 1483.9,711.8 1492.2,707.7 1497.4,699.3 1502.6,695.2 1505.7,686.9 1508.8,676.5 1513.0,672.4 1517.1,670.3 1521.3,653.7 1526.5,645.4 1529.6,651.6 1533.7,641.2 1536.9,632.9 1540.0,624.6 1542.1,611.1 1545.2,612.1 1548.3,599.7 1551.4,589.3 1553.5,560.2 1554.9,556.1 1557.6,568.5 1560.7,550.9 1563.9,554.0 1567.0,561.3 1570.1,549.8 1571.7,548.8 1573.2,568.5 1575.3,583.1 1577.4,599.7 1579.4,618.4 1581.5,641.2 1583.6,659.9 1585.7,676.5 1588.8,697.3 1591.9,709.7 1596.0,720.1 1601.2,725.3 1608.5,728.0 1618.9,729.0 1651.1,729.0" fill="none" stroke="#f90c0c" stroke-width="3.3" stroke-linejoin="round" stroke-linecap="butt"/>
<polyline points="1415.0,728.0 1425.8,728.0 1436.1,726.3 1446.5,726.3 1456.9,724.3 1465.2,724.3 1473.5,720.1 1481.8,717.0 1490.1,713.9 1498.4,707.7 1504.7,699.3 1510.9,689.0 1515.1,678.6 1519.2,678.6 1523.4,670.3 1529.6,662.0 1533.7,653.7 1536.9,651.6 1540.0,635.0 1542.1,624.6 1545.2,622.5 1549.3,608.0 1553.5,605.9 1556.6,593.4 1560.7,572.7 1564.9,574.8 1568.0,568.5 1570.1,550.9 1572.8,568.5 1575.7,564.4 1577.4,574.8 1581.5,585.1 1584.6,593.4 1587.7,616.3 1590.9,626.7 1594.0,645.4 1597.1,662.0 1601.2,676.5 1604.3,686.9 1607.5,699.3 1610.6,705.6 1613.7,716.0 1618.9,722.2 1627.2,726.3 1637.6,728.4 1645.9,728.4 1651.1,727.4" fill="none" stroke="#0505f8" stroke-width="3.7" stroke-linejoin="round" stroke-linecap="butt"/>
<text x="1391.7" y="524.0" font-size="14.6" text-anchor="middle" fill="#111" font-weight="bold">120</text>
<text x="1391.3" y="571.1" font-size="14.6" text-anchor="middle" fill="#111" font-weight="bold">90</text>
<text x="1392.9" y="621.9" font-size="14.6" text-anchor="middle" fill="#111" font-weight="bold">60</text>
<text x="1391.4" y="681.6" font-size="14.6" text-anchor="middle" fill="#111" font-weight="bold">30</text>
<text x="1391.6" y="725.8" font-size="14.6" text-anchor="middle" fill="#111" font-weight="bold">0</text>
<text x="1380.4" y="614.6" font-size="21.3" text-anchor="middle" fill="#111" font-weight="bold" transform="rotate(-90 1380.4 614.6)">Count</text>
<text x="1419.0" y="751.2" font-size="14.5" text-anchor="middle" fill="#111" font-weight="bold">10<tspan dy="-3.6" font-size="10">2</tspan></text>
<text x="1534.0" y="751.2" font-size="14.5" text-anchor="middle" fill="#111" font-weight="bold">10<tspan dy="-3.6" font-size="10">3</tspan></text>
<text x="1639.3" y="751.2" font-size="14.5" text-anchor="middle" fill="#111" font-weight="bold">10<tspan dy="-3.6" font-size="10">4</tspan></text>
<text x="1533.4" y="778.0" font-size="21" text-anchor="middle" fill="#111" font-weight="bold">CD38</text>
<line x1="1713.2" y1="514.6" x2="1940.0" y2="514.6" stroke="#7a7a7a" stroke-width="1.1"/>
<line x1="1940.0" y1="514.6" x2="1940.0" y2="725.2" stroke="#777" stroke-width="1.3"/>
<line x1="1713.2" y1="514.1" x2="1713.2" y2="726.0" stroke="#5a5a5a" stroke-width="1.2"/>
<line x1="1712.4" y1="725.2" x2="1940.8" y2="725.2" stroke="#5a5a5a" stroke-width="1.2"/>
<line x1="1708.2" y1="530.4" x2="1713.2" y2="530.4" stroke="#2a2a2a" stroke-width="1.4"/>
<line x1="1708.2" y1="579.6" x2="1713.2" y2="579.6" stroke="#2a2a2a" stroke-width="1.4"/>
<line x1="1708.2" y1="628.0" x2="1713.2" y2="628.0" stroke="#2a2a2a" stroke-width="1.4"/>
<line x1="1708.2" y1="676.8" x2="1713.2" y2="676.8" stroke="#2a2a2a" stroke-width="1.4"/>
<line x1="1708.2" y1="725.2" x2="1713.2" y2="725.2" stroke="#2a2a2a" stroke-width="1.4"/>
<line x1="1710.6" y1="547.1" x2="1713.2" y2="547.1" stroke="#2a2a2a" stroke-width="1.0999999999999999"/>
<line x1="1710.6" y1="563.4" x2="1713.2" y2="563.4" stroke="#2a2a2a" stroke-width="1.0999999999999999"/>
<line x1="1710.6" y1="595.5" x2="1713.2" y2="595.5" stroke="#2a2a2a" stroke-width="1.0999999999999999"/>
<line x1="1710.6" y1="611.8" x2="1713.2" y2="611.8" stroke="#2a2a2a" stroke-width="1.0999999999999999"/>
<line x1="1710.6" y1="644.3" x2="1713.2" y2="644.3" stroke="#2a2a2a" stroke-width="1.0999999999999999"/>
<line x1="1710.6" y1="660.6" x2="1713.2" y2="660.6" stroke="#2a2a2a" stroke-width="1.0999999999999999"/>
<line x1="1710.6" y1="693.1" x2="1713.2" y2="693.1" stroke="#2a2a2a" stroke-width="1.0999999999999999"/>
<line x1="1710.6" y1="709.4" x2="1713.2" y2="709.4" stroke="#2a2a2a" stroke-width="1.0999999999999999"/>
<line x1="1758.0" y1="725.2" x2="1758.0" y2="729.7" stroke="#2a2a2a" stroke-width="1.4"/>
<line x1="1847.8" y1="725.2" x2="1847.8" y2="729.7" stroke="#2a2a2a" stroke-width="1.4"/>
<line x1="1937.5" y1="725.2" x2="1937.5" y2="729.7" stroke="#2a2a2a" stroke-width="1.4"/>
<line x1="1722.2" y1="725.2" x2="1722.2" y2="727.5" stroke="#2a2a2a" stroke-width="0.8999999999999999"/>
<line x1="1730.9" y1="725.2" x2="1730.9" y2="727.5" stroke="#2a2a2a" stroke-width="0.8999999999999999"/>
<line x1="1738.0" y1="725.2" x2="1738.0" y2="727.5" stroke="#2a2a2a" stroke-width="0.8999999999999999"/>
<line x1="1744.0" y1="725.2" x2="1744.0" y2="727.5" stroke="#2a2a2a" stroke-width="0.8999999999999999"/>
<line x1="1749.2" y1="725.2" x2="1749.2" y2="727.5" stroke="#2a2a2a" stroke-width="0.8999999999999999"/>
<line x1="1753.8" y1="725.2" x2="1753.8" y2="727.5" stroke="#2a2a2a" stroke-width="0.8999999999999999"/>
<line x1="1785.0" y1="725.2" x2="1785.0" y2="727.5" stroke="#2a2a2a" stroke-width="0.8999999999999999"/>
<line x1="1800.8" y1="725.2" x2="1800.8" y2="727.5" stroke="#2a2a2a" stroke-width="0.8999999999999999"/>
<line x1="1812.1" y1="725.2" x2="1812.1" y2="727.5" stroke="#2a2a2a" stroke-width="0.8999999999999999"/>
<line x1="1820.8" y1="725.2" x2="1820.8" y2="727.5" stroke="#2a2a2a" stroke-width="0.8999999999999999"/>
<line x1="1827.9" y1="725.2" x2="1827.9" y2="727.5" stroke="#2a2a2a" stroke-width="0.8999999999999999"/>
<line x1="1833.9" y1="725.2" x2="1833.9" y2="727.5" stroke="#2a2a2a" stroke-width="0.8999999999999999"/>
<line x1="1839.1" y1="725.2" x2="1839.1" y2="727.5" stroke="#2a2a2a" stroke-width="0.8999999999999999"/>
<line x1="1843.7" y1="725.2" x2="1843.7" y2="727.5" stroke="#2a2a2a" stroke-width="0.8999999999999999"/>
<line x1="1874.9" y1="725.2" x2="1874.9" y2="727.5" stroke="#2a2a2a" stroke-width="0.8999999999999999"/>
<line x1="1890.7" y1="725.2" x2="1890.7" y2="727.5" stroke="#2a2a2a" stroke-width="0.8999999999999999"/>
<line x1="1901.9" y1="725.2" x2="1901.9" y2="727.5" stroke="#2a2a2a" stroke-width="0.8999999999999999"/>
<line x1="1910.6" y1="725.2" x2="1910.6" y2="727.5" stroke="#2a2a2a" stroke-width="0.8999999999999999"/>
<line x1="1917.8" y1="725.2" x2="1917.8" y2="727.5" stroke="#2a2a2a" stroke-width="0.8999999999999999"/>
<line x1="1923.8" y1="725.2" x2="1923.8" y2="727.5" stroke="#2a2a2a" stroke-width="0.8999999999999999"/>
<line x1="1929.0" y1="725.2" x2="1929.0" y2="727.5" stroke="#2a2a2a" stroke-width="0.8999999999999999"/>
<line x1="1933.6" y1="725.2" x2="1933.6" y2="727.5" stroke="#2a2a2a" stroke-width="0.8999999999999999"/>
<polyline points="1713.2,725.2 1730.5,724.2 1738.6,721.6 1745.8,718.5 1750.8,708.3 1756.9,700.2 1760.0,688.0 1763.0,673.8 1766.1,659.5 1769.1,643.3 1772.2,627.0 1775.2,610.7 1777.3,592.4 1780.3,588.4 1783.4,570.1 1787.4,568.0 1790.5,564.0 1793.5,557.9 1795.2,572.1 1797.2,586.3 1799.6,598.5 1802.7,610.7 1804.7,620.9 1807.8,627.0 1809.8,643.3 1811.8,655.5 1814.9,667.7 1819.0,677.8 1822.0,683.9 1825.1,693.1 1830.1,694.1 1834.2,702.2 1839.3,710.4 1846.4,717.5 1854.5,721.6 1862.7,724.2 1872.8,725.2" fill="none" stroke="#151515" stroke-width="2.9" stroke-linejoin="round" stroke-linecap="butt" stroke-dasharray="7.5 5"/>
<polyline points="1713.2,725.2 1750.8,725.2 1759.0,723.6 1767.1,720.5 1773.2,712.4 1778.3,702.2 1782.4,692.1 1785.4,675.8 1788.5,659.5 1791.5,639.2 1794.6,618.9 1796.6,600.6 1798.6,574.1 1800.7,542.6 1802.7,541.6 1804.1,547.7 1805.7,541.6 1808.4,534.5 1810.8,544.7 1812.9,547.7 1814.9,557.9 1816.9,576.2 1819.0,592.4 1821.0,608.7 1823.0,625.0 1825.1,637.2 1828.1,651.4 1831.2,663.6 1834.2,673.8 1837.3,686.0 1841.3,698.2 1845.4,708.3 1850.5,714.4 1856.6,720.5 1862.7,723.6 1872.8,725.2 1939.9,725.2" fill="none" stroke="#f90c0c" stroke-width="3.5" stroke-linejoin="round" stroke-linecap="butt"/>
<polyline points="1713.2,720.5 1718.3,724.6 1730.5,724.6 1740.7,723.6 1750.8,722.6 1756.9,717.5 1765.1,713.4 1771.2,706.3 1776.3,698.2 1781.3,690.0 1784.4,675.8 1786.4,665.6 1790.5,655.5 1793.5,639.2 1796.6,618.9 1798.6,602.6 1801.7,590.4 1805.7,588.4 1808.8,578.2 1811.8,584.3 1814.9,588.4 1817.9,586.3 1819.6,575.2 1821.0,576.2 1823.0,600.6 1826.1,594.5 1830.1,593.5 1834.2,598.5 1838.3,594.5 1840.9,586.3 1843.4,588.4 1845.4,606.7 1847.4,600.6 1849.5,600.6 1851.5,612.8 1854.5,627.0 1857.6,639.2 1860.6,649.4 1863.7,661.6 1866.7,671.7 1869.8,683.9 1872.8,694.1 1876.9,706.3 1881.0,716.5 1886.1,721.6 1893.2,724.2 1903.3,725.2 1939.9,725.2" fill="none" stroke="#0505f8" stroke-width="3.8" stroke-linejoin="round" stroke-linecap="butt"/>
<text x="1690.2" y="532.9" font-size="14.6" text-anchor="middle" fill="#111" font-weight="bold">120</text>
<text x="1690.2" y="580.3" font-size="14.6" text-anchor="middle" fill="#111" font-weight="bold">90</text>
<text x="1692.0" y="630.6" font-size="14.6" text-anchor="middle" fill="#111" font-weight="bold">60</text>
<text x="1690.2" y="689.9" font-size="14.6" text-anchor="middle" fill="#111" font-weight="bold">30</text>
<text x="1689.7" y="734.6" font-size="14.6" text-anchor="middle" fill="#111" font-weight="bold">0</text>
<text x="1680.4" y="612.9" font-size="21.3" text-anchor="middle" fill="#111" font-weight="bold" transform="rotate(-90 1680.4 612.9)">Count</text>
<text x="1755.9" y="751.2" font-size="14.5" text-anchor="middle" fill="#111" font-weight="bold">10<tspan dy="-3.6" font-size="10">2</tspan></text>
<text x="1851.4" y="751.2" font-size="14.5" text-anchor="middle" fill="#111" font-weight="bold">10<tspan dy="-3.6" font-size="10">3</tspan></text>
<text x="1932.9" y="751.2" font-size="14.5" text-anchor="middle" fill="#111" font-weight="bold">10<tspan dy="-3.6" font-size="10">4</tspan></text>
<text x="1808.0" y="778.0" font-size="21" text-anchor="middle" fill="#111" font-weight="bold">CD49e</text>
<line x1="122.5" y1="42.5" x2="122.5" y2="303.6" stroke="#000" stroke-width="3.5"/>
<line x1="113.8" y1="44.3" x2="122.5" y2="44.3" stroke="#000" stroke-width="3.5"/>
<line x1="113.8" y1="96.0" x2="122.5" y2="96.0" stroke="#000" stroke-width="3.5"/>
<line x1="113.8" y1="147.5" x2="122.5" y2="147.5" stroke="#000" stroke-width="3.5"/>
<line x1="113.8" y1="199.0" x2="122.5" y2="199.0" stroke="#000" stroke-width="3.5"/>
<line x1="113.8" y1="250.5" x2="122.5" y2="250.5" stroke="#000" stroke-width="3.5"/>
<line x1="113.8" y1="301.9" x2="122.5" y2="301.9" stroke="#000" stroke-width="3.5"/>
<line x1="116.0" y1="301.9" x2="472.0" y2="301.9" stroke="#000" stroke-width="3.5"/>
<line x1="222.1" y1="301.9" x2="222.1" y2="309.1" stroke="#000" stroke-width="3.5"/>
<line x1="371.0" y1="301.9" x2="371.0" y2="309.1" stroke="#000" stroke-width="3.5"/>
<line x1="597.3" y1="87.9" x2="597.3" y2="298.4" stroke="#000" stroke-width="3"/>
<line x1="590.3" y1="89.4" x2="597.3" y2="89.4" stroke="#000" stroke-width="3"/>
<line x1="590.3" y1="158.6" x2="597.3" y2="158.6" stroke="#000" stroke-width="3"/>
<line x1="590.3" y1="227.7" x2="597.3" y2="227.7" stroke="#000" stroke-width="3"/>
<line x1="590.3" y1="296.9" x2="597.3" y2="296.9" stroke="#000" stroke-width="3"/>
<line x1="591.0" y1="296.9" x2="909.0" y2="296.9" stroke="#000" stroke-width="3"/>
<line x1="682.6" y1="296.9" x2="682.6" y2="302.2" stroke="#000" stroke-width="3"/>
<line x1="820.6" y1="296.9" x2="820.6" y2="302.2" stroke="#000" stroke-width="3"/>
<line x1="119.8" y1="465.9" x2="119.8" y2="640.9" stroke="#000" stroke-width="3.3"/>
<line x1="112.6" y1="467.5" x2="119.8" y2="467.5" stroke="#000" stroke-width="3.3"/>
<line x1="112.6" y1="501.9" x2="119.8" y2="501.9" stroke="#000" stroke-width="3.3"/>
<line x1="112.6" y1="536.6" x2="119.8" y2="536.6" stroke="#000" stroke-width="3.3"/>
<line x1="112.6" y1="571.0" x2="119.8" y2="571.0" stroke="#000" stroke-width="3.3"/>
<line x1="112.6" y1="605.0" x2="119.8" y2="605.0" stroke="#000" stroke-width="3.3"/>
<line x1="112.6" y1="639.3" x2="119.8" y2="639.3" stroke="#000" stroke-width="3.3"/>
<line x1="119.8" y1="647.6" x2="119.8" y2="699.2" stroke="#000" stroke-width="3.3"/>
<line x1="112.6" y1="649.3" x2="119.8" y2="649.3" stroke="#000" stroke-width="3.3"/>
<line x1="112.6" y1="673.3" x2="119.8" y2="673.3" stroke="#000" stroke-width="3.3"/>
<line x1="112.6" y1="697.8" x2="119.8" y2="697.8" stroke="#000" stroke-width="3.3"/>
<line x1="119.0" y1="639.3" x2="124.6" y2="639.3" stroke="#000" stroke-width="3.3"/>
<line x1="119.0" y1="649.3" x2="124.6" y2="649.3" stroke="#000" stroke-width="3.3"/>
<line x1="114.7" y1="697.5" x2="432.9" y2="697.5" stroke="#000" stroke-width="3.3"/>
<line x1="208.8" y1="697.5" x2="208.8" y2="701.9" stroke="#000" stroke-width="3.3"/>
<line x1="342.0" y1="697.5" x2="342.0" y2="701.9" stroke="#000" stroke-width="3.3"/>
<line x1="596.4" y1="474.4" x2="596.4" y2="690.0" stroke="#000" stroke-width="3"/>
<line x1="589.4" y1="475.9" x2="596.4" y2="475.9" stroke="#000" stroke-width="3"/>
<line x1="589.4" y1="547.1" x2="596.4" y2="547.1" stroke="#000" stroke-width="3"/>
<line x1="589.4" y1="618.0" x2="596.4" y2="618.0" stroke="#000" stroke-width="3"/>
<line x1="589.4" y1="688.5" x2="596.4" y2="688.5" stroke="#000" stroke-width="3"/>
<line x1="591.2" y1="688.5" x2="915.0" y2="688.5" stroke="#000" stroke-width="3"/>
<line x1="683.7" y1="688.5" x2="683.7" y2="694.5" stroke="#000" stroke-width="3"/>
<line x1="825.0" y1="688.5" x2="825.0" y2="694.5" stroke="#000" stroke-width="3"/>
<line x1="122.4" y1="877.6" x2="122.4" y2="1049.4" stroke="#000" stroke-width="3.6"/>
<line x1="115.1" y1="879.4" x2="122.4" y2="879.4" stroke="#000" stroke-width="3.6"/>
<line x1="115.1" y1="913.9" x2="122.4" y2="913.9" stroke="#000" stroke-width="3.6"/>
<line x1="115.1" y1="947.2" x2="122.4" y2="947.2" stroke="#000" stroke-width="3.6"/>
<line x1="115.1" y1="980.7" x2="122.4" y2="980.7" stroke="#000" stroke-width="3.6"/>
<line x1="115.1" y1="1014.0" x2="122.4" y2="1014.0" stroke="#000" stroke-width="3.6"/>
<line x1="115.1" y1="1047.6" x2="122.4" y2="1047.6" stroke="#000" stroke-width="3.6"/>
<line x1="122.4" y1="1063.6" x2="122.4" y2="1127.8" stroke="#000" stroke-width="3.6"/>
<line x1="115.1" y1="1065.4" x2="122.4" y2="1065.4" stroke="#000" stroke-width="3.6"/>
<line x1="115.1" y1="1095.2" x2="122.4" y2="1095.2" stroke="#000" stroke-width="3.6"/>
<line x1="115.1" y1="1125.6" x2="122.4" y2="1125.6" stroke="#000" stroke-width="3.6"/>
<line x1="121.6" y1="1047.6" x2="128.6" y2="1047.6" stroke="#000" stroke-width="3.6"/>
<line x1="121.6" y1="1065.4" x2="128.6" y2="1065.4" stroke="#000" stroke-width="3.6"/>
<line x1="115.5" y1="1126.0" x2="474.0" y2="1126.0" stroke="#000" stroke-width="3.6"/>
<line x1="217.0" y1="1126.0" x2="217.0" y2="1132.3" stroke="#000" stroke-width="3.6"/>
<line x1="378.0" y1="1126.0" x2="378.0" y2="1132.3" stroke="#000" stroke-width="3.6"/>
<line x1="649.4" y1="889.5" x2="649.4" y2="1119.0" stroke="#000" stroke-width="2.6"/>
<line x1="642.1" y1="890.8" x2="649.4" y2="890.8" stroke="#000" stroke-width="2.6"/>
<line x1="642.1" y1="966.9" x2="649.4" y2="966.9" stroke="#000" stroke-width="2.6"/>
<line x1="642.1" y1="1042.3" x2="649.4" y2="1042.3" stroke="#000" stroke-width="2.6"/>
<line x1="642.1" y1="1117.7" x2="649.4" y2="1117.7" stroke="#000" stroke-width="2.6"/>
<line x1="643.0" y1="1117.7" x2="1012.6" y2="1117.7" stroke="#000" stroke-width="2.6"/>
<line x1="747.2" y1="1117.7" x2="747.2" y2="1124.0" stroke="#000" stroke-width="2.6"/>
<line x1="913.5" y1="1117.7" x2="913.5" y2="1124.0" stroke="#000" stroke-width="2.6"/>
</svg>
</body>
</html>
